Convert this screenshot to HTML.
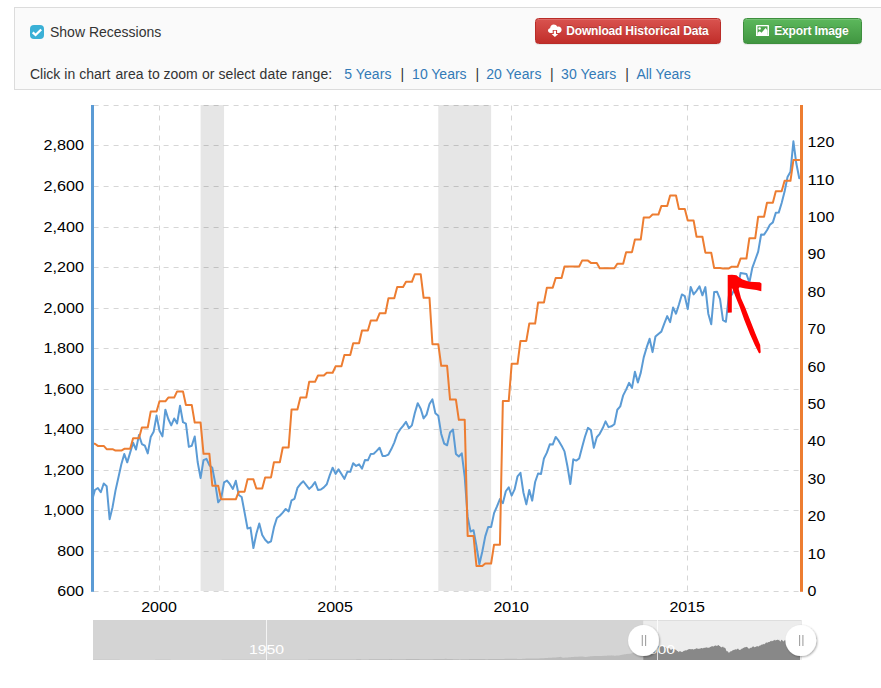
<!DOCTYPE html>
<html><head><meta charset="utf-8"><title>chart</title>
<style>
html,body{margin:0;padding:0;background:#fff;overflow:hidden;}
html{width:881px;height:688px;}
body{width:881px;height:688px;overflow:hidden;position:relative;font-family:"Liberation Sans",sans-serif;}
svg text{font-family:"Liberation Sans",sans-serif;}
.panel{position:absolute;left:14px;top:7px;width:866px;height:81px;background:#fafafa;border:1px solid #dcdcdc;border-right:none;}
.cb{position:absolute;left:30px;top:25px;width:14px;height:14px;border-radius:4px;background:#3ab0d6;}
.t{position:absolute;font-size:14px;line-height:16px;color:#333;white-space:nowrap;}
.lk{color:#337ab7;}
.rng{position:absolute;left:30px;top:66px;font-size:14px;line-height:16px;color:#333;white-space:nowrap;}
.rng a{color:#337ab7;text-decoration:none;}
.btn{box-shadow:inset 0 1px 0 rgba(255,255,255,.15),0 1px 1px rgba(0,0,0,.075);position:absolute;top:18px;height:24px;border-radius:3.5px;font-size:12px;font-weight:bold;color:#fff;line-height:24px;white-space:nowrap;text-shadow:0 -1px 0 rgba(0,0,0,.2);}
.red{left:535px;width:184px;background:linear-gradient(#d9534f,#c12e2a);border:1px solid #b92c28;}
.grn{left:743px;width:117px;background:linear-gradient(#5cb85c,#419641);border:1px solid #3e8f3e;}
</style></head><body>
<div class="panel"></div>
<div class="cb"><svg width="14" height="14" viewBox="0 0 14 14"><path d="M2.7 7.3 L5.6 10 L11.2 4.5" fill="none" stroke="#fff" stroke-width="2.3" stroke-linecap="butt" stroke-linejoin="miter"/></svg></div>
<div class="t" id="t0" style="left:50px;top:24px;">Show Recessions</div>
<div class="t" style="left:30.0px;top:66px;">Click</div>
<div class="t" style="left:64.3px;top:66px;">in</div>
<div class="t" style="left:79.3px;top:66px;">chart</div>
<div class="t" style="left:115.5px;top:66px;">area</div>
<div class="t" style="left:148.0px;top:66px;">to</div>
<div class="t" style="left:163.4px;top:66px;">zoom</div>
<div class="t" style="left:202.0px;top:66px;">or</div>
<div class="t" style="left:218.6px;top:66px;">select</div>
<div class="t" style="left:259.5px;top:66px; letter-spacing:0.20px;">date</div>
<div class="t" style="left:291.8px;top:66px; letter-spacing:0.15px;">range:</div>
<div class="t lk" id="t2" style="left:344.2px;top:66px;letter-spacing:0.08px">5 Years</div>
<div class="t" id="s1" style="left:400.4px;top:66px;">|</div>
<div class="t lk" id="t3" style="left:412.1px;top:66px;">10 Years</div>
<div class="t" id="s2" style="left:475.5px;top:66px;">|</div>
<div class="t lk" id="t4" style="left:486.2px;top:66px;letter-spacing:0.1px">20 Years</div>
<div class="t" id="s3" style="left:550.1px;top:66px;">|</div>
<div class="t lk" id="t5" style="left:561.1px;top:66px;letter-spacing:0.1px">30 Years</div>
<div class="t" id="s4" style="left:625.3px;top:66px;">|</div>
<div class="t lk" id="t6" style="left:636.4px;top:66px;">All Years</div>
<div class="btn red">
<svg style="position:absolute;left:11.5px;top:5px" width="15" height="14" viewBox="0 0 15 14"><path fill="#fff" d="M2.6,9 C1.2,9 0,7.9 0,6.6 C0,5.4 0.9,4.4 2.1,4.2 C2.2,2.2 3.8,0.6 5.8,0.6 C7.3,0.6 8.6,1.5 9.2,2.8 C9.6,2.6 10,2.5 10.5,2.5 C12.2,2.5 13.6,3.9 13.6,5.7 C13.6,7.5 12.2,9 10.5,9 Z"/><path d="M4.7,9.2 V6 H9.1 V9.2 Z" fill="#cd413d"/><path d="M5.8,6.8 H8 V9.9 H10.2 L6.9,13 L3.6,9.9 H5.8 Z" fill="#fff"/></svg>
<span style="position:absolute;left:30.3px;top:0;letter-spacing:-0.18px">Download</span><span style="position:absolute;left:89.3px;top:0">Historical</span><span style="position:absolute;left:147.2px;top:0;letter-spacing:-0.2px">Data</span></div>
<div class="btn grn">
<svg style="position:absolute;left:11.8px;top:5.8px" width="14" height="12" viewBox="0 0 14 12"><rect x="0" y="0" width="13" height="11.1" rx="0.6" fill="#fff"/><rect x="1.5" y="1.3" width="10" height="8.6" fill="#4fa64f"/><circle cx="3.6" cy="3.6" r="1.25" fill="#fff"/><path d="M1.5,10 V7.7 L3.7,6.3 L5.6,7.8 L9.6,2.9 L11.5,5.6 V10 Z" fill="#fff"/></svg>
<span style="position:absolute;left:30.2px;top:0;letter-spacing:-0.15px">Export</span><span style="position:absolute;left:70.4px;top:0;letter-spacing:-0.08px">Image</span></div>
<svg width="881" height="688" viewBox="0 0 881 688" style="position:absolute;left:0;top:0">
<defs><clipPath id="pc"><rect x="93" y="100" width="708" height="495"/></clipPath><filter id="sh" x="-30%" y="-30%" width="160%" height="160%"><feGaussianBlur in="SourceAlpha" stdDeviation="1.2"/><feOffset dx="0.5" dy="1"/><feComponentTransfer><feFuncA type="linear" slope="0.35"/></feComponentTransfer><feMerge><feMergeNode/><feMergeNode in="SourceGraphic"/></feMerge></filter></defs>
<rect x="200.59" y="105" width="23.48" height="486" fill="#e6e6e6"/>
<rect x="438.30" y="105" width="52.83" height="486" fill="#e6e6e6"/>
<line x1="93.6" x2="801" y1="105.5" y2="105.5" stroke="#000" stroke-opacity="0.16" stroke-width="1" stroke-dasharray="5,5" fill="none"/>
<line x1="93.6" x2="801" y1="145.5" y2="145.5" stroke="#000" stroke-opacity="0.16" stroke-width="1" stroke-dasharray="5,5" fill="none"/>
<line x1="93.6" x2="801" y1="186.5" y2="186.5" stroke="#000" stroke-opacity="0.16" stroke-width="1" stroke-dasharray="5,5" fill="none"/>
<line x1="93.6" x2="801" y1="227.5" y2="227.5" stroke="#000" stroke-opacity="0.16" stroke-width="1" stroke-dasharray="5,5" fill="none"/>
<line x1="93.6" x2="801" y1="267.5" y2="267.5" stroke="#000" stroke-opacity="0.16" stroke-width="1" stroke-dasharray="5,5" fill="none"/>
<line x1="93.6" x2="801" y1="308.5" y2="308.5" stroke="#000" stroke-opacity="0.16" stroke-width="1" stroke-dasharray="5,5" fill="none"/>
<line x1="93.6" x2="801" y1="348.5" y2="348.5" stroke="#000" stroke-opacity="0.16" stroke-width="1" stroke-dasharray="5,5" fill="none"/>
<line x1="93.6" x2="801" y1="389.5" y2="389.5" stroke="#000" stroke-opacity="0.16" stroke-width="1" stroke-dasharray="5,5" fill="none"/>
<line x1="93.6" x2="801" y1="429.5" y2="429.5" stroke="#000" stroke-opacity="0.16" stroke-width="1" stroke-dasharray="5,5" fill="none"/>
<line x1="93.6" x2="801" y1="470.5" y2="470.5" stroke="#000" stroke-opacity="0.16" stroke-width="1" stroke-dasharray="5,5" fill="none"/>
<line x1="93.6" x2="801" y1="510.5" y2="510.5" stroke="#000" stroke-opacity="0.16" stroke-width="1" stroke-dasharray="5,5" fill="none"/>
<line x1="93.6" x2="801" y1="551.5" y2="551.5" stroke="#000" stroke-opacity="0.16" stroke-width="1" stroke-dasharray="5,5" fill="none"/>
<line x1="93.6" x2="801" y1="591.5" y2="591.5" stroke="#000" stroke-opacity="0.16" stroke-width="1" stroke-dasharray="5,5" fill="none"/>
<line x1="159.5" x2="159.5" y1="105.5" y2="591.5" stroke="#000" stroke-opacity="0.16" stroke-width="1" stroke-dasharray="5,5" fill="none"/>
<line x1="335.5" x2="335.5" y1="105.5" y2="591.5" stroke="#000" stroke-opacity="0.16" stroke-width="1" stroke-dasharray="5,5" fill="none"/>
<line x1="511.5" x2="511.5" y1="105.5" y2="591.5" stroke="#000" stroke-opacity="0.16" stroke-width="1" stroke-dasharray="5,5" fill="none"/>
<line x1="687.5" x2="687.5" y1="105.5" y2="591.5" stroke="#000" stroke-opacity="0.16" stroke-width="1" stroke-dasharray="5,5" fill="none"/>
<g clip-path="url(#pc)"><g transform="translate(0,0.6)">
<path d="M89.07,513.99 L92.00,500.01 L94.94,489.40 L97.87,487.37 L100.81,491.61 L103.74,482.90 L106.67,485.56 L109.61,518.65 L112.54,506.56 L115.48,490.02 L118.41,476.86 L121.35,463.58 L124.28,453.37 L127.22,461.74 L130.15,452.01 L133.09,442.13 L136.02,448.88 L138.96,434.53 L141.89,443.43 L144.83,445.12 L147.76,452.75 L150.70,436.51 L153.63,431.25 L156.57,414.98 L159.50,430.12 L162.43,435.80 L165.37,409.04 L168.30,418.38 L171.24,424.83 L174.17,417.94 L177.11,422.76 L180.04,405.17 L182.98,421.61 L185.91,423.05 L188.85,446.22 L191.78,445.14 L194.72,435.88 L197.65,461.41 L200.59,477.53 L203.52,459.48 L206.46,458.20 L209.39,464.56 L212.32,467.23 L215.26,482.95 L218.19,501.71 L221.13,497.89 L224.06,481.76 L227.00,480.01 L229.93,483.63 L232.87,488.39 L235.80,480.15 L238.74,494.42 L241.67,496.40 L244.61,512.06 L247.54,527.90 L250.48,527.00 L253.41,547.41 L256.35,533.13 L259.28,522.90 L262.22,534.34 L265.15,539.22 L268.08,542.17 L271.02,540.74 L273.95,526.82 L276.89,517.37 L279.82,515.16 L282.76,511.96 L285.69,508.38 L288.63,510.82 L291.56,499.73 L294.50,498.21 L297.43,487.34 L300.37,483.45 L303.30,480.65 L306.24,484.44 L309.17,488.27 L312.11,485.56 L315.04,481.48 L317.98,489.40 L320.91,488.89 L323.84,486.80 L326.78,483.63 L329.71,474.80 L332.65,467.09 L335.58,473.29 L338.52,468.77 L341.45,473.43 L344.39,478.24 L347.32,471.22 L350.26,471.26 L353.19,462.58 L356.13,465.38 L359.06,463.67 L362.00,468.08 L364.93,459.48 L367.87,459.72 L370.80,453.28 L373.73,453.17 L376.67,450.30 L379.60,447.10 L382.54,455.31 L385.47,455.28 L388.41,453.98 L391.34,448.48 L394.28,441.99 L397.21,433.47 L400.15,428.87 L403.08,425.29 L406.02,421.26 L408.95,427.62 L411.89,424.78 L414.82,412.32 L417.76,402.55 L420.69,408.07 L423.62,417.81 L426.56,414.02 L429.49,403.33 L432.43,398.75 L435.36,412.57 L438.30,415.16 L441.23,433.34 L444.17,443.05 L447.10,444.65 L450.04,431.92 L452.97,428.92 L455.91,453.30 L458.84,455.86 L461.78,452.73 L464.71,476.31 L467.65,516.33 L470.58,531.01 L473.52,529.59 L476.45,545.26 L479.38,563.64 L482.32,550.93 L485.25,535.76 L488.19,526.37 L491.12,526.34 L494.06,512.54 L496.99,505.82 L499.93,498.44 L502.86,502.67 L505.80,490.63 L508.73,486.69 L511.67,495.04 L514.60,488.84 L517.54,475.69 L520.47,472.20 L523.41,491.89 L526.34,503.78 L529.27,489.43 L532.21,500.01 L535.14,481.41 L538.08,472.89 L541.01,473.44 L543.95,457.83 L546.88,452.06 L549.82,443.74 L552.75,444.02 L555.69,436.37 L558.62,440.10 L561.56,445.07 L564.49,450.81 L567.43,465.67 L570.36,483.39 L573.30,458.71 L576.23,459.99 L579.17,457.84 L582.10,446.74 L585.03,435.95 L587.97,427.28 L590.90,429.42 L593.84,447.16 L596.77,436.66 L599.71,433.19 L602.64,427.67 L605.58,420.76 L608.51,426.54 L611.45,425.72 L614.38,423.70 L617.32,409.13 L620.25,405.78 L623.19,394.74 L626.12,388.99 L629.06,382.28 L631.99,387.23 L634.92,371.14 L637.86,381.82 L640.79,371.99 L643.73,356.80 L646.66,346.82 L649.60,338.21 L652.53,351.53 L655.47,335.96 L658.40,333.35 L661.34,331.00 L664.27,322.98 L667.21,315.55 L670.14,321.54 L673.08,306.82 L676.01,313.11 L678.95,303.84 L681.88,293.82 L684.82,295.57 L687.75,308.51 L690.68,286.34 L693.62,293.75 L696.55,290.18 L699.49,285.75 L702.42,294.72 L705.36,286.47 L708.29,313.13 L711.23,323.69 L714.16,291.43 L717.10,291.22 L720.03,298.60 L722.97,319.60 L725.90,321.22 L728.84,295.40 L731.77,294.28 L734.71,287.87 L737.64,287.48 L740.58,272.35 L743.51,272.88 L746.44,273.43 L749.38,281.95 L752.31,267.24 L755.25,259.14 L758.18,251.03 L761.12,233.86 L764.05,234.05 L766.99,229.70 L769.92,224.11 L772.86,221.76 L775.79,212.26 L778.73,211.99 L781.66,202.33 L784.60,191.01 L787.53,176.37 L790.47,171.09 L793.40,140.68 L796.33,162.95 L799.27,177.72" fill="none" stroke="#5b9bd5" stroke-width="2" stroke-linejoin="round" stroke-linecap="round"/>
<path d="M89.07,443.18 L92.00,443.18 L94.94,443.18 L97.87,445.31 L100.81,445.31 L103.74,445.31 L106.67,448.60 L109.61,448.60 L112.54,448.60 L115.48,450.02 L118.41,450.02 L121.35,450.02 L124.28,448.19 L127.22,448.19 L130.15,448.19 L133.09,437.72 L136.02,437.72 L138.96,437.72 L141.89,426.88 L144.83,426.88 L147.76,426.88 L150.70,410.99 L153.63,410.99 L156.57,410.99 L159.50,400.71 L162.43,400.71 L165.37,400.71 L168.30,396.97 L171.24,396.97 L174.17,396.97 L177.11,390.81 L180.04,390.81 L182.98,390.81 L185.91,404.45 L188.85,404.45 L191.78,404.45 L194.72,421.98 L197.65,421.98 L200.59,421.98 L203.52,453.24 L206.46,453.24 L209.39,453.24 L212.32,485.16 L215.26,485.16 L218.19,485.16 L221.13,498.70 L224.06,498.70 L227.00,498.70 L229.93,498.77 L232.87,498.77 L235.80,498.77 L238.74,491.03 L241.67,491.03 L244.61,491.03 L247.54,478.77 L250.48,478.77 L253.41,478.77 L256.35,487.86 L259.28,487.86 L262.22,487.86 L265.15,476.83 L268.08,476.83 L271.02,476.83 L273.95,461.65 L276.89,461.65 L279.82,461.65 L282.76,446.88 L285.69,446.88 L288.63,446.88 L291.56,408.79 L294.50,408.79 L297.43,408.79 L300.37,396.97 L303.30,396.97 L306.24,396.97 L309.17,381.27 L312.11,381.27 L315.04,381.27 L317.98,374.92 L320.91,374.92 L323.84,374.92 L326.78,372.11 L329.71,372.11 L332.65,372.11 L335.58,365.76 L338.52,365.76 L341.45,365.76 L344.39,354.50 L347.32,354.50 L350.26,354.50 L353.19,342.58 L356.13,342.58 L359.06,342.58 L362.00,329.87 L364.93,329.87 L367.87,329.87 L370.80,319.96 L373.73,319.96 L376.67,319.96 L379.60,312.67 L382.54,312.67 L385.47,312.67 L388.41,297.72 L391.34,297.72 L394.28,297.72 L397.21,286.50 L400.15,286.50 L403.08,286.50 L406.02,281.23 L408.95,281.23 L411.89,281.23 L414.82,273.53 L417.76,273.53 L420.69,273.53 L423.62,297.16 L426.56,297.16 L429.49,297.16 L432.43,343.59 L435.36,343.59 L438.30,343.59 L441.23,365.23 L444.17,365.23 L447.10,365.23 L450.04,398.96 L452.97,398.96 L455.91,398.96 L458.84,419.22 L461.78,419.22 L464.71,419.22 L467.65,535.37 L470.58,535.37 L473.52,535.37 L476.45,565.35 L479.38,565.35 L482.32,565.35 L485.25,562.92 L488.19,562.92 L491.12,562.92 L494.06,544.12 L496.99,544.12 L499.93,544.12 L502.86,400.45 L505.80,400.45 L508.73,400.45 L511.67,363.22 L514.60,363.22 L517.54,363.22 L520.47,340.34 L523.41,340.34 L526.34,340.34 L529.27,322.95 L532.21,322.95 L535.14,322.95 L538.08,302.02 L541.01,302.02 L543.95,302.02 L546.88,287.03 L549.82,287.03 L552.75,287.03 L555.69,277.46 L558.62,277.46 L561.56,277.46 L564.49,265.83 L567.43,265.83 L570.36,265.83 L573.30,265.94 L576.23,265.94 L579.17,265.94 L582.10,260.00 L585.03,260.00 L587.97,260.00 L590.90,262.31 L593.84,262.31 L596.77,262.31 L599.71,267.62 L602.64,267.62 L605.58,267.62 L608.51,267.59 L611.45,267.59 L614.38,267.59 L617.32,263.14 L620.25,263.14 L623.19,263.14 L626.12,251.55 L629.06,251.55 L631.99,251.55 L634.92,238.84 L637.86,238.84 L640.79,238.84 L643.73,216.78 L646.66,216.78 L649.60,216.78 L652.53,213.98 L655.47,213.98 L658.40,213.98 L661.34,205.49 L664.27,205.49 L667.21,205.49 L670.14,194.87 L673.08,194.87 L676.01,194.87 L678.95,208.52 L681.88,208.52 L684.82,208.52 L687.75,219.96 L690.68,219.96 L693.62,219.96 L696.55,236.18 L699.49,236.18 L702.42,236.18 L705.36,252.07 L708.29,252.07 L711.23,252.07 L714.16,267.51 L717.10,267.51 L720.03,267.51 L722.97,267.85 L725.90,267.85 L728.84,267.85 L731.77,266.05 L734.71,266.05 L737.64,266.05 L740.58,257.94 L743.51,257.94 L746.44,257.94 L749.38,237.53 L752.31,237.53 L755.25,237.53 L758.18,216.07 L761.12,216.07 L764.05,216.07 L766.99,202.13 L769.92,202.13 L772.86,202.13 L775.79,190.69 L778.73,190.69 L781.66,190.69 L784.60,180.22 L787.53,180.22 L790.47,180.22 L793.40,159.43 L796.33,159.43 L799.27,159.43" fill="none" stroke="#ed7d31" stroke-width="2" stroke-linejoin="round" stroke-linecap="round"/>
</g></g>
<rect x="91" y="105" width="3" height="486.8" fill="#5b9bd5"/>
<rect x="800" y="105" width="3" height="486.8" fill="#ed7d31"/>
<text x="84.0" y="595.9" text-anchor="end" textLength="26.7" lengthAdjust="spacingAndGlyphs" font-size="14" fill="#000">600</text>
<text x="84.0" y="555.9" text-anchor="end" textLength="26.7" lengthAdjust="spacingAndGlyphs" font-size="14" fill="#000">800</text>
<text x="84.0" y="514.9" text-anchor="end" textLength="40.6" lengthAdjust="spacingAndGlyphs" font-size="14" fill="#000">1,000</text>
<text x="84.0" y="474.9" text-anchor="end" textLength="40.6" lengthAdjust="spacingAndGlyphs" font-size="14" fill="#000">1,200</text>
<text x="84.0" y="433.9" text-anchor="end" textLength="40.6" lengthAdjust="spacingAndGlyphs" font-size="14" fill="#000">1,400</text>
<text x="84.0" y="393.9" text-anchor="end" textLength="40.6" lengthAdjust="spacingAndGlyphs" font-size="14" fill="#000">1,600</text>
<text x="84.0" y="352.9" text-anchor="end" textLength="40.6" lengthAdjust="spacingAndGlyphs" font-size="14" fill="#000">1,800</text>
<text x="84.0" y="312.9" text-anchor="end" textLength="40.6" lengthAdjust="spacingAndGlyphs" font-size="14" fill="#000">2,000</text>
<text x="84.0" y="271.9" text-anchor="end" textLength="40.6" lengthAdjust="spacingAndGlyphs" font-size="14" fill="#000">2,200</text>
<text x="84.0" y="231.9" text-anchor="end" textLength="40.6" lengthAdjust="spacingAndGlyphs" font-size="14" fill="#000">2,400</text>
<text x="84.0" y="190.9" text-anchor="end" textLength="40.6" lengthAdjust="spacingAndGlyphs" font-size="14" fill="#000">2,600</text>
<text x="84.0" y="149.9" text-anchor="end" textLength="40.6" lengthAdjust="spacingAndGlyphs" font-size="14" fill="#000">2,800</text>
<text x="807.6" y="595.9" text-anchor="start" textLength="8.9" lengthAdjust="spacingAndGlyphs" font-size="14" fill="#000">0</text>
<text x="807.6" y="558.5" text-anchor="start" textLength="17.8" lengthAdjust="spacingAndGlyphs" font-size="14" fill="#000">10</text>
<text x="807.6" y="521.1" text-anchor="start" textLength="17.8" lengthAdjust="spacingAndGlyphs" font-size="14" fill="#000">20</text>
<text x="807.6" y="483.7" text-anchor="start" textLength="17.8" lengthAdjust="spacingAndGlyphs" font-size="14" fill="#000">30</text>
<text x="807.6" y="446.4" text-anchor="start" textLength="17.8" lengthAdjust="spacingAndGlyphs" font-size="14" fill="#000">40</text>
<text x="807.6" y="409.0" text-anchor="start" textLength="17.8" lengthAdjust="spacingAndGlyphs" font-size="14" fill="#000">50</text>
<text x="807.6" y="371.6" text-anchor="start" textLength="17.8" lengthAdjust="spacingAndGlyphs" font-size="14" fill="#000">60</text>
<text x="807.6" y="334.2" text-anchor="start" textLength="17.8" lengthAdjust="spacingAndGlyphs" font-size="14" fill="#000">70</text>
<text x="807.6" y="296.8" text-anchor="start" textLength="17.8" lengthAdjust="spacingAndGlyphs" font-size="14" fill="#000">80</text>
<text x="807.6" y="259.4" text-anchor="start" textLength="17.8" lengthAdjust="spacingAndGlyphs" font-size="14" fill="#000">90</text>
<text x="807.6" y="222.1" text-anchor="start" textLength="26.7" lengthAdjust="spacingAndGlyphs" font-size="14" fill="#000">100</text>
<text x="807.6" y="184.7" text-anchor="start" textLength="26.7" lengthAdjust="spacingAndGlyphs" font-size="14" fill="#000">110</text>
<text x="807.6" y="147.3" text-anchor="start" textLength="26.7" lengthAdjust="spacingAndGlyphs" font-size="14" fill="#000">120</text>
<text x="159.0" y="612.0" text-anchor="middle" textLength="35.6" lengthAdjust="spacingAndGlyphs" font-size="14" fill="#000">2000</text>
<text x="335.1" y="612.0" text-anchor="middle" textLength="35.6" lengthAdjust="spacingAndGlyphs" font-size="14" fill="#000">2005</text>
<text x="511.2" y="612.0" text-anchor="middle" textLength="35.6" lengthAdjust="spacingAndGlyphs" font-size="14" fill="#000">2010</text>
<text x="687.2" y="612.0" text-anchor="middle" textLength="35.6" lengthAdjust="spacingAndGlyphs" font-size="14" fill="#000">2015</text>
<clipPath id="c1"><rect x="93" y="620" width="550.20" height="40"/></clipPath>
<clipPath id="c2"><rect x="643.20" y="620" width="157.00" height="40"/></clipPath>
<rect x="93" y="620" width="708.5" height="40" fill="#d4d4d4"/>
<rect x="643.20" y="620.6" width="158.00" height="39.4" fill="#ededed"/>
<path d="M92.96,660 L92.96,659.83 L93.29,659.83 L93.63,659.83 L93.96,659.83 L94.30,659.83 L94.63,659.82 L94.97,659.82 L95.31,659.82 L95.64,659.82 L95.98,659.82 L96.31,659.82 L96.65,659.82 L96.98,659.82 L97.32,659.81 L97.65,659.81 L97.98,659.81 L98.31,659.81 L98.63,659.80 L98.96,659.80 L99.29,659.79 L99.61,659.79 L99.94,659.79 L100.26,659.78 L100.59,659.78 L100.92,659.77 L101.24,659.77 L101.57,659.76 L101.89,659.76 L102.21,659.76 L102.54,659.75 L102.86,659.75 L103.18,659.75 L103.50,659.74 L103.83,659.74 L104.15,659.73 L104.47,659.73 L104.79,659.73 L105.12,659.73 L105.44,659.72 L105.76,659.71 L106.08,659.71 L106.41,659.71 L106.73,659.70 L107.05,659.70 L107.36,659.72 L107.68,659.74 L107.99,659.76 L108.30,659.78 L108.62,659.80 L108.93,659.80 L109.24,659.79 L109.56,659.79 L109.87,659.78 L110.18,659.78 L110.50,659.78 L110.81,659.77 L111.12,659.77 L111.44,659.76 L111.75,659.76 L112.07,659.76 L112.39,659.77 L112.72,659.78 L113.04,659.78 L113.36,659.79 L113.68,659.79 L114.01,659.80 L114.33,659.80 L114.65,659.81 L114.97,659.81 L115.30,659.82 L115.62,659.82 L115.94,659.83 L116.26,659.83 L116.59,659.84 L116.91,659.85 L117.23,659.85 L117.56,659.85 L117.88,659.86 L118.21,659.86 L118.54,659.86 L118.86,659.86 L119.19,659.87 L119.51,659.87 L119.84,659.88 L120.17,659.88 L120.49,659.88 L120.82,659.88 L121.14,659.89 L121.47,659.89 L121.80,659.89 L122.12,659.90 L122.45,659.90 L122.78,659.90 L123.10,659.91 L123.43,659.91 L123.75,659.91 L124.08,659.91 L124.41,659.92 L124.73,659.92 L125.06,659.92 L125.39,659.92 L125.71,659.93 L126.04,659.93 L126.37,659.93 L126.69,659.94 L127.02,659.94 L127.34,659.94 L127.67,659.95 L128.00,659.95 L128.32,659.95 L128.65,659.95 L128.98,659.96 L129.30,659.95 L129.63,659.95 L129.95,659.95 L130.28,659.95 L130.61,659.94 L130.93,659.94 L131.26,659.94 L131.58,659.93 L131.91,659.93 L132.24,659.93 L132.56,659.93 L132.89,659.92 L133.22,659.92 L133.54,659.92 L133.87,659.92 L134.20,659.91 L134.52,659.91 L134.85,659.91 L135.17,659.91 L135.50,659.91 L135.83,659.90 L136.15,659.90 L136.48,659.90 L136.80,659.89 L137.13,659.90 L137.46,659.90 L137.78,659.90 L138.11,659.90 L138.44,659.90 L138.76,659.90 L139.09,659.90 L139.41,659.90 L139.74,659.90 L140.07,659.90 L140.39,659.90 L140.72,659.90 L141.05,659.90 L141.37,659.90 L141.70,659.90 L142.03,659.91 L142.35,659.90 L142.68,659.90 L143.00,659.91 L143.33,659.91 L143.66,659.91 L143.98,659.91 L144.31,659.91 L144.63,659.91 L144.96,659.91 L145.29,659.91 L145.61,659.91 L145.94,659.91 L146.27,659.90 L146.59,659.90 L146.92,659.90 L147.24,659.90 L147.57,659.90 L147.90,659.90 L148.22,659.90 L148.55,659.89 L148.88,659.89 L149.20,659.89 L149.53,659.89 L149.86,659.89 L150.18,659.89 L150.51,659.89 L150.83,659.89 L151.16,659.89 L151.49,659.89 L151.81,659.88 L152.14,659.88 L152.46,659.88 L152.79,659.88 L153.12,659.88 L153.44,659.88 L153.77,659.88 L154.10,659.88 L154.42,659.88 L154.75,659.88 L155.07,659.88 L155.40,659.87 L155.73,659.87 L156.05,659.87 L156.38,659.87 L156.70,659.87 L157.03,659.87 L157.35,659.86 L157.68,659.86 L158.00,659.86 L158.32,659.86 L158.65,659.86 L158.97,659.86 L159.30,659.86 L159.62,659.86 L159.94,659.85 L160.27,659.85 L160.59,659.85 L160.92,659.85 L161.24,659.84 L161.56,659.84 L161.89,659.84 L162.21,659.84 L162.54,659.84 L162.86,659.84 L163.18,659.83 L163.51,659.83 L163.83,659.83 L164.16,659.83 L164.48,659.83 L164.80,659.83 L165.13,659.82 L165.45,659.82 L165.78,659.82 L166.11,659.83 L166.44,659.83 L166.77,659.83 L167.10,659.84 L167.43,659.84 L167.76,659.85 L168.09,659.84 L168.43,659.85 L168.76,659.86 L169.09,659.86 L169.42,659.86 L169.75,659.86 L170.08,659.87 L170.41,659.87 L170.75,659.88 L171.08,659.88 L171.41,659.88 L171.74,659.88 L172.07,659.89 L172.40,659.89 L172.73,659.90 L173.06,659.90 L173.40,659.90 L173.73,659.91 L174.06,659.91 L174.39,659.91 L174.71,659.91 L175.03,659.91 L175.36,659.91 L175.68,659.91 L176.00,659.90 L176.32,659.90 L176.65,659.90 L176.97,659.90 L177.29,659.89 L177.61,659.89 L177.94,659.89 L178.26,659.89 L178.58,659.88 L178.90,659.88 L179.23,659.88 L179.55,659.88 L179.87,659.88 L180.20,659.88 L180.52,659.88 L180.85,659.88 L181.18,659.88 L181.50,659.88 L181.83,659.88 L182.15,659.88 L182.48,659.88 L182.81,659.88 L183.13,659.88 L183.46,659.88 L183.78,659.88 L184.11,659.88 L184.44,659.89 L184.76,659.89 L185.09,659.89 L185.42,659.89 L185.74,659.89 L186.07,659.89 L186.39,659.89 L186.72,659.89 L187.05,659.89 L187.37,659.89 L187.70,659.89 L188.03,659.90 L188.35,659.90 L188.68,659.90 L189.01,659.90 L189.33,659.90 L189.66,659.90 L189.98,659.90 L190.31,659.90 L190.64,659.90 L190.96,659.90 L191.29,659.90 L191.62,659.90 L191.94,659.90 L192.27,659.90 L192.60,659.90 L192.93,659.91 L193.25,659.91 L193.58,659.91 L193.91,659.91 L194.24,659.91 L194.56,659.91 L194.89,659.91 L195.22,659.91 L195.55,659.91 L195.88,659.91 L196.20,659.91 L196.53,659.91 L196.86,659.91 L197.19,659.91 L197.51,659.91 L197.84,659.91 L198.17,659.91 L198.50,659.91 L198.83,659.92 L199.15,659.91 L199.48,659.92 L199.81,659.92 L200.14,659.92 L200.46,659.92 L200.79,659.92 L201.12,659.92 L201.45,659.92 L201.78,659.92 L202.10,659.92 L202.43,659.92 L202.76,659.92 L203.09,659.92 L203.41,659.92 L203.74,659.92 L204.07,659.92 L204.40,659.93 L204.73,659.92 L205.05,659.92 L205.38,659.92 L205.71,659.93 L206.03,659.93 L206.36,659.92 L206.68,659.92 L207.01,659.92 L207.33,659.92 L207.66,659.92 L207.98,659.92 L208.31,659.92 L208.63,659.92 L208.96,659.92 L209.28,659.92 L209.60,659.91 L209.93,659.91 L210.25,659.91 L210.58,659.91 L210.90,659.91 L211.23,659.91 L211.55,659.91 L211.88,659.91 L212.20,659.90 L212.53,659.90 L212.85,659.90 L213.18,659.90 L213.50,659.90 L213.83,659.90 L214.15,659.90 L214.47,659.90 L214.80,659.90 L215.12,659.90 L215.45,659.89 L215.77,659.90 L216.10,659.90 L216.42,659.89 L216.75,659.89 L217.07,659.89 L217.40,659.89 L217.72,659.89 L218.05,659.89 L218.37,659.89 L218.70,659.89 L219.02,659.88 L219.34,659.88 L219.67,659.88 L219.99,659.88 L220.32,659.88 L220.64,659.88 L220.96,659.88 L221.29,659.88 L221.61,659.88 L221.94,659.87 L222.26,659.87 L222.58,659.87 L222.91,659.87 L223.23,659.87 L223.56,659.87 L223.88,659.87 L224.20,659.87 L224.53,659.86 L224.85,659.86 L225.18,659.86 L225.50,659.86 L225.82,659.86 L226.15,659.86 L226.47,659.86 L226.80,659.86 L227.12,659.85 L227.44,659.85 L227.77,659.85 L228.09,659.85 L228.42,659.85 L228.74,659.85 L229.06,659.85 L229.39,659.85 L229.71,659.85 L230.04,659.85 L230.36,659.85 L230.68,659.84 L231.01,659.84 L231.33,659.84 L231.66,659.84 L231.98,659.84 L232.30,659.84 L232.63,659.84 L232.95,659.84 L233.28,659.83 L233.60,659.83 L233.92,659.83 L234.25,659.83 L234.57,659.83 L234.90,659.83 L235.22,659.82 L235.54,659.83 L235.87,659.83 L236.19,659.83 L236.52,659.82 L236.84,659.82 L237.16,659.82 L237.49,659.82 L237.81,659.82 L238.14,659.82 L238.47,659.82 L238.81,659.82 L239.14,659.83 L239.47,659.83 L239.80,659.83 L240.13,659.83 L240.46,659.83 L240.79,659.83 L241.12,659.83 L241.46,659.83 L241.79,659.83 L242.12,659.84 L242.45,659.84 L242.78,659.84 L243.11,659.84 L243.44,659.84 L243.77,659.84 L244.11,659.85 L244.44,659.85 L244.77,659.85 L245.10,659.85 L245.43,659.85 L245.76,659.85 L246.09,659.85 L246.43,659.86 L246.75,659.85 L247.08,659.85 L247.40,659.86 L247.73,659.86 L248.06,659.86 L248.38,659.85 L248.71,659.85 L249.03,659.85 L249.36,659.86 L249.69,659.85 L250.01,659.86 L250.34,659.86 L250.67,659.86 L250.99,659.86 L251.32,659.86 L251.65,659.86 L251.97,659.86 L252.30,659.86 L252.62,659.86 L252.95,659.86 L253.28,659.86 L253.60,659.86 L253.93,659.86 L254.25,659.86 L254.58,659.86 L254.91,659.86 L255.23,659.86 L255.56,659.86 L255.89,659.86 L256.21,659.86 L256.54,659.86 L256.86,659.86 L257.19,659.86 L257.52,659.86 L257.84,659.86 L258.17,659.86 L258.50,659.86 L258.82,659.86 L259.15,659.86 L259.48,659.86 L259.80,659.86 L260.13,659.86 L260.45,659.86 L260.78,659.86 L261.11,659.86 L261.43,659.86 L261.76,659.86 L262.08,659.86 L262.41,659.86 L262.74,659.86 L263.06,659.86 L263.39,659.85 L263.72,659.86 L264.04,659.85 L264.37,659.85 L264.69,659.85 L265.02,659.85 L265.35,659.85 L265.67,659.85 L266.00,659.84 L266.33,659.84 L266.65,659.84 L266.98,659.84 L267.31,659.84 L267.63,659.84 L267.96,659.83 L268.28,659.83 L268.61,659.84 L268.94,659.83 L269.26,659.83 L269.59,659.83 L269.92,659.83 L270.24,659.83 L270.57,659.83 L270.89,659.82 L271.22,659.82 L271.55,659.82 L271.87,659.82 L272.20,659.82 L272.52,659.81 L272.85,659.81 L273.18,659.81 L273.50,659.81 L273.83,659.81 L274.16,659.80 L274.48,659.80 L274.81,659.80 L275.14,659.80 L275.46,659.80 L275.79,659.80 L276.11,659.80 L276.44,659.79 L276.77,659.79 L277.09,659.79 L277.42,659.79 L277.75,659.79 L278.07,659.79 L278.40,659.78 L278.72,659.79 L279.05,659.78 L279.38,659.78 L279.70,659.78 L280.03,659.77 L280.35,659.77 L280.68,659.77 L281.01,659.77 L281.33,659.77 L281.66,659.77 L281.98,659.77 L282.31,659.77 L282.63,659.77 L282.96,659.77 L283.28,659.77 L283.61,659.77 L283.93,659.77 L284.26,659.77 L284.58,659.77 L284.91,659.77 L285.23,659.77 L285.56,659.77 L285.88,659.77 L286.21,659.77 L286.53,659.78 L286.85,659.77 L287.18,659.77 L287.50,659.77 L287.83,659.77 L288.15,659.77 L288.48,659.77 L288.80,659.77 L289.13,659.77 L289.45,659.77 L289.78,659.78 L290.10,659.77 L290.43,659.78 L290.75,659.77 L291.08,659.77 L291.40,659.78 L291.72,659.78 L292.05,659.77 L292.37,659.78 L292.70,659.78 L293.02,659.78 L293.35,659.78 L293.67,659.78 L294.00,659.77 L294.32,659.78 L294.65,659.78 L294.97,659.78 L295.30,659.78 L295.63,659.77 L295.96,659.77 L296.28,659.77 L296.61,659.76 L296.94,659.76 L297.27,659.75 L297.60,659.75 L297.93,659.75 L298.25,659.73 L298.58,659.73 L298.91,659.73 L299.24,659.73 L299.57,659.73 L299.90,659.72 L300.22,659.72 L300.55,659.71 L300.88,659.71 L301.21,659.70 L301.54,659.70 L301.87,659.69 L302.19,659.69 L302.52,659.69 L302.85,659.68 L303.18,659.68 L303.51,659.68 L303.84,659.67 L304.16,659.67 L304.49,659.66 L304.82,659.65 L305.15,659.65 L305.48,659.66 L305.80,659.65 L306.13,659.64 L306.46,659.64 L306.78,659.64 L307.11,659.64 L307.43,659.63 L307.76,659.63 L308.09,659.63 L308.41,659.62 L308.74,659.61 L309.06,659.61 L309.39,659.62 L309.72,659.62 L310.04,659.60 L310.37,659.60 L310.70,659.60 L311.02,659.59 L311.35,659.60 L311.67,659.59 L312.00,659.58 L312.33,659.58 L312.65,659.57 L312.98,659.57 L313.31,659.58 L313.63,659.58 L313.96,659.57 L314.29,659.56 L314.61,659.56 L314.94,659.55 L315.26,659.55 L315.59,659.55 L315.92,659.54 L316.24,659.55 L316.57,659.54 L316.89,659.54 L317.22,659.55 L317.55,659.54 L317.88,659.55 L318.21,659.54 L318.54,659.55 L318.87,659.56 L319.19,659.56 L319.52,659.56 L319.85,659.56 L320.18,659.56 L320.51,659.57 L320.84,659.57 L321.16,659.57 L321.49,659.57 L321.82,659.58 L322.15,659.58 L322.48,659.58 L322.81,659.59 L323.13,659.59 L323.46,659.59 L323.79,659.58 L324.12,659.59 L324.45,659.59 L324.78,659.60 L325.10,659.60 L325.43,659.61 L325.76,659.60 L326.09,659.61 L326.42,659.61 L326.75,659.62 L327.07,659.62 L327.40,659.61 L327.72,659.60 L328.05,659.60 L328.37,659.60 L328.70,659.59 L329.02,659.58 L329.35,659.59 L329.67,659.59 L330.00,659.58 L330.32,659.57 L330.65,659.56 L330.97,659.57 L331.29,659.55 L331.62,659.55 L331.94,659.55 L332.27,659.55 L332.59,659.53 L332.92,659.54 L333.24,659.53 L333.57,659.53 L333.89,659.53 L334.22,659.51 L334.54,659.52 L334.87,659.50 L335.19,659.50 L335.52,659.51 L335.84,659.50 L336.16,659.49 L336.49,659.48 L336.81,659.47 L337.14,659.48 L337.46,659.47 L337.79,659.47 L338.11,659.45 L338.44,659.47 L338.76,659.46 L339.09,659.46 L339.41,659.45 L339.74,659.43 L340.06,659.43 L340.38,659.43 L340.71,659.43 L341.04,659.43 L341.37,659.43 L341.70,659.44 L342.03,659.45 L342.36,659.43 L342.68,659.44 L343.01,659.45 L343.34,659.44 L343.67,659.45 L344.00,659.45 L344.33,659.45 L344.65,659.46 L344.98,659.46 L345.31,659.46 L345.64,659.46 L345.97,659.45 L346.30,659.47 L346.62,659.45 L346.95,659.47 L347.28,659.47 L347.61,659.46 L347.94,659.46 L348.27,659.47 L348.59,659.48 L348.92,659.47 L349.25,659.48 L349.58,659.47 L349.91,659.48 L350.24,659.48 L350.56,659.48 L350.90,659.47 L351.23,659.48 L351.56,659.46 L351.89,659.45 L352.22,659.44 L352.55,659.45 L352.88,659.45 L353.21,659.44 L353.55,659.42 L353.88,659.42 L354.21,659.41 L354.54,659.40 L354.87,659.40 L355.20,659.40 L355.53,659.38 L355.86,659.38 L356.20,659.38 L356.53,659.36 L356.86,659.37 L357.19,659.36 L357.52,659.36 L357.85,659.34 L358.18,659.33 L358.51,659.33 L358.85,659.31 L359.18,659.32 L359.51,659.34 L359.85,659.35 L360.18,659.35 L360.52,659.35 L360.85,659.36 L361.19,659.39 L361.53,659.40 L361.86,659.41 L362.20,659.42 L362.53,659.42 L362.87,659.44 L363.20,659.44 L363.54,659.46 L363.88,659.47 L364.20,659.46 L364.53,659.45 L364.85,659.45 L365.18,659.45 L365.51,659.45 L365.83,659.44 L366.16,659.43 L366.48,659.43 L366.81,659.43 L367.14,659.41 L367.46,659.41 L367.79,659.41 L368.12,659.41 L368.44,659.39 L368.77,659.39 L369.10,659.37 L369.42,659.37 L369.75,659.36 L370.07,659.37 L370.40,659.37 L370.73,659.36 L371.05,659.35 L371.38,659.34 L371.70,659.34 L372.03,659.34 L372.36,659.33 L372.68,659.32 L373.01,659.31 L373.34,659.30 L373.66,659.29 L373.99,659.29 L374.31,659.30 L374.64,659.28 L374.97,659.29 L375.29,659.27 L375.62,659.27 L375.95,659.27 L376.27,659.26 L376.60,659.27 L376.93,659.26 L377.25,659.26 L377.58,659.26 L377.90,659.23 L378.23,659.24 L378.56,659.24 L378.88,659.24 L379.21,659.22 L379.54,659.23 L379.86,659.23 L380.19,659.21 L380.51,659.21 L380.84,659.20 L381.17,659.22 L381.49,659.21 L381.82,659.20 L382.14,659.19 L382.47,659.19 L382.80,659.21 L383.12,659.20 L383.45,659.20 L383.78,659.19 L384.10,659.17 L384.43,659.17 L384.76,659.16 L385.08,659.17 L385.41,659.16 L385.73,659.17 L386.06,659.17 L386.39,659.15 L386.71,659.14 L387.04,659.16 L387.37,659.14 L387.69,659.14 L388.02,659.15 L388.34,659.14 L388.67,659.14 L389.00,659.14 L389.32,659.13 L389.65,659.12 L389.97,659.11 L390.30,659.13 L390.63,659.13 L390.95,659.11 L391.28,659.11 L391.61,659.11 L391.94,659.13 L392.27,659.14 L392.60,659.15 L392.93,659.14 L393.26,659.16 L393.59,659.18 L393.92,659.19 L394.25,659.19 L394.58,659.20 L394.91,659.20 L395.24,659.23 L395.57,659.23 L395.90,659.23 L396.23,659.24 L396.55,659.26 L396.88,659.27 L397.21,659.26 L397.54,659.28 L397.87,659.28 L398.20,659.26 L398.53,659.26 L398.86,659.26 L399.19,659.24 L399.52,659.23 L399.85,659.24 L400.17,659.24 L400.50,659.22 L400.83,659.23 L401.16,659.23 L401.49,659.19 L401.82,659.20 L402.15,659.18 L402.48,659.19 L402.81,659.17 L403.13,659.18 L403.46,659.18 L403.79,659.18 L404.12,659.15 L404.45,659.15 L404.78,659.13 L405.11,659.15 L405.44,659.13 L405.77,659.13 L406.09,659.12 L406.42,659.12 L406.75,659.11 L407.08,659.10 L407.41,659.08 L407.74,659.10 L408.07,659.08 L408.40,659.07 L408.73,659.05 L409.05,659.07 L409.38,659.07 L409.71,659.04 L410.04,659.03 L410.37,659.04 L410.70,659.05 L411.03,659.01 L411.36,659.02 L411.68,659.00 L412.01,659.00 L412.34,658.99 L412.67,659.01 L413.00,658.98 L413.33,658.99 L413.66,658.98 L413.99,658.97 L414.31,658.97 L414.64,658.98 L414.97,659.01 L415.29,659.02 L415.62,659.02 L415.94,659.03 L416.27,659.04 L416.60,659.06 L416.92,659.06 L417.25,659.05 L417.58,659.06 L417.90,659.10 L418.23,659.09 L418.55,659.09 L418.88,659.12 L419.21,659.11 L419.53,659.14 L419.86,659.13 L420.19,659.14 L420.51,659.15 L420.84,659.17 L421.16,659.17 L421.49,659.18 L421.82,659.19 L422.14,659.19 L422.47,659.21 L422.80,659.22 L423.12,659.24 L423.45,659.23 L423.77,659.24 L424.10,659.26 L424.43,659.25 L424.75,659.26 L425.08,659.28 L425.41,659.30 L425.73,659.30 L426.06,659.29 L426.39,659.29 L426.72,659.28 L427.05,659.27 L427.38,659.27 L427.71,659.25 L428.04,659.24 L428.37,659.25 L428.70,659.23 L429.03,659.23 L429.36,659.21 L429.69,659.20 L430.02,659.20 L430.35,659.20 L430.68,659.18 L431.01,659.18 L431.34,659.16 L431.67,659.17 L432.00,659.14 L432.33,659.13 L432.66,659.13 L432.99,659.12 L433.31,659.13 L433.64,659.10 L433.97,659.11 L434.30,659.09 L434.63,659.08 L434.96,659.10 L435.29,659.07 L435.62,659.06 L435.95,659.08 L436.28,659.06 L436.61,659.04 L436.94,659.05 L437.27,659.02 L437.60,659.03 L437.93,659.01 L438.26,659.01 L438.59,659.02 L438.91,659.00 L439.24,658.98 L439.57,658.99 L439.89,658.99 L440.22,658.97 L440.54,658.97 L440.87,658.98 L441.20,658.96 L441.52,658.96 L441.85,658.92 L442.18,658.93 L442.50,658.91 L442.83,658.93 L443.15,658.90 L443.48,658.92 L443.81,658.90 L444.13,658.89 L444.46,658.89 L444.78,658.87 L445.11,658.87 L445.44,658.87 L445.76,658.85 L446.09,658.86 L446.42,658.88 L446.74,658.86 L447.07,658.89 L447.40,658.91 L447.72,658.91 L448.05,658.94 L448.37,658.93 L448.70,658.96 L449.03,658.98 L449.35,658.97 L449.68,659.00 L450.00,659.02 L450.33,659.01 L450.66,659.05 L450.98,659.04 L451.31,659.07 L451.64,659.07 L451.96,659.07 L452.29,659.10 L452.61,659.11 L452.94,659.13 L453.27,659.15 L453.59,659.16 L453.92,659.17 L454.25,659.17 L454.57,659.19 L454.90,659.20 L455.23,659.20 L455.55,659.24 L455.88,659.25 L456.20,659.25 L456.53,659.28 L456.86,659.29 L457.18,659.30 L457.51,659.31 L457.84,659.32 L458.16,659.34 L458.49,659.34 L458.81,659.35 L459.14,659.38 L459.47,659.38 L459.79,659.39 L460.12,659.39 L460.44,659.38 L460.77,659.36 L461.10,659.36 L461.42,659.36 L461.75,659.35 L462.08,659.33 L462.40,659.31 L462.73,659.30 L463.06,659.30 L463.38,659.30 L463.71,659.30 L464.03,659.27 L464.36,659.26 L464.69,659.26 L465.01,659.24 L465.34,659.24 L465.66,659.21 L465.99,659.21 L466.32,659.22 L466.64,659.19 L466.97,659.20 L467.30,659.18 L467.62,659.17 L467.95,659.17 L468.27,659.17 L468.60,659.13 L468.93,659.15 L469.25,659.12 L469.58,659.12 L469.90,659.09 L470.22,659.11 L470.54,659.11 L470.86,659.09 L471.18,659.08 L471.50,659.07 L471.82,659.06 L472.14,659.07 L472.46,659.06 L472.78,659.06 L473.10,659.06 L473.42,659.02 L473.74,659.02 L474.06,659.02 L474.38,659.03 L474.71,659.00 L475.03,659.00 L475.35,659.00 L475.67,658.98 L475.99,658.99 L476.31,658.99 L476.63,658.97 L476.96,658.99 L477.28,658.99 L477.61,659.01 L477.94,659.00 L478.27,658.99 L478.60,659.00 L478.93,659.00 L479.25,659.01 L479.58,659.03 L479.91,659.03 L480.24,659.04 L480.57,659.03 L480.90,659.05 L481.22,659.06 L481.55,659.05 L481.88,659.05 L482.21,659.08 L482.54,659.06 L482.87,659.10 L483.19,659.10 L483.52,659.10 L483.85,659.09 L484.18,659.09 L484.51,659.10 L484.84,659.12 L485.16,659.11 L485.49,659.14 L485.82,659.14 L486.15,659.13 L486.48,659.14 L486.81,659.15 L487.13,659.14 L487.46,659.14 L487.79,659.13 L488.12,659.14 L488.45,659.12 L488.78,659.12 L489.10,659.11 L489.43,659.12 L489.76,659.10 L490.09,659.11 L490.42,659.11 L490.75,659.11 L491.07,659.09 L491.40,659.10 L491.73,659.07 L492.06,659.09 L492.39,659.09 L492.72,659.08 L493.04,659.05 L493.37,659.07 L493.70,659.07 L494.03,659.07 L494.36,659.06 L494.69,659.04 L495.01,659.03 L495.34,659.03 L495.67,659.02 L496.00,659.04 L496.33,659.02 L496.66,659.02 L496.99,659.01 L497.31,659.00 L497.63,659.00 L497.95,659.00 L498.27,659.03 L498.60,659.00 L498.92,658.99 L499.24,658.99 L499.56,659.02 L499.89,659.02 L500.21,659.02 L500.53,659.03 L500.85,659.00 L501.18,659.00 L501.50,659.00 L501.82,659.00 L502.14,659.00 L502.47,659.01 L502.79,659.00 L503.11,658.98 L503.43,658.97 L503.76,658.92 L504.08,658.92 L504.40,658.90 L504.72,658.87 L505.05,658.87 L505.37,658.84 L505.69,658.82 L506.01,658.78 L506.33,658.78 L506.66,658.76 L506.98,658.71 L507.30,658.71 L507.62,658.68 L507.95,658.67 L508.27,658.67 L508.60,658.71 L508.92,658.70 L509.25,658.71 L509.57,658.70 L509.89,658.72 L510.22,658.71 L510.54,658.73 L510.87,658.75 L511.19,658.73 L511.52,658.77 L511.84,658.75 L512.17,658.78 L512.49,658.80 L512.82,658.80 L513.14,658.78 L513.47,658.78 L513.79,658.83 L514.12,658.81 L514.44,658.82 L514.76,658.81 L515.09,658.85 L515.41,658.84 L515.74,658.85 L516.06,658.84 L516.39,658.87 L516.71,658.85 L517.04,658.89 L517.36,658.90 L517.69,658.88 L518.01,658.90 L518.34,658.92 L518.66,658.91 L518.99,658.94 L519.31,658.92 L519.63,658.93 L519.96,658.93 L520.28,658.94 L520.61,658.96 L520.93,658.97 L521.26,658.97 L521.58,658.95 L521.90,658.90 L522.22,658.91 L522.54,658.85 L522.86,658.86 L523.18,658.82 L523.50,658.79 L523.82,658.74 L524.14,658.73 L524.46,658.71 L524.78,658.66 L525.10,658.66 L525.42,658.63 L525.74,658.60 L526.06,658.56 L526.38,658.53 L526.70,658.51 L527.02,658.50 L527.34,658.47 L527.66,658.46 L527.98,658.39 L528.31,658.38 L528.63,658.38 L528.96,658.38 L529.28,658.42 L529.61,658.41 L529.94,658.40 L530.26,658.42 L530.59,658.45 L530.91,658.44 L531.24,658.42 L531.57,658.46 L531.89,658.47 L532.22,658.47 L532.55,658.46 L532.87,658.46 L533.20,658.50 L533.53,658.51 L533.85,658.51 L534.18,658.51 L534.50,658.51 L534.83,658.53 L535.16,658.53 L535.48,658.54 L535.81,658.51 L536.13,658.54 L536.46,658.51 L536.79,658.53 L537.11,658.47 L537.44,658.50 L537.77,658.47 L538.09,658.42 L538.42,658.42 L538.74,658.40 L539.07,658.41 L539.40,658.40 L539.72,658.36 L540.05,658.38 L540.38,658.36 L540.70,658.33 L541.03,658.34 L541.36,658.30 L541.68,658.26 L542.01,658.25 L542.33,658.25 L542.66,658.23 L542.99,658.22 L543.31,658.23 L543.64,658.18 L543.97,658.17 L544.29,658.16 L544.62,658.11 L544.94,658.08 L545.27,658.09 L545.60,658.06 L545.92,658.02 L546.25,658.02 L546.57,658.02 L546.90,657.96 L547.23,657.92 L547.55,657.91 L547.88,657.89 L548.21,657.86 L548.53,657.85 L548.86,657.83 L549.19,657.82 L549.51,657.81 L549.84,657.77 L550.16,657.79 L550.49,657.74 L550.82,657.69 L551.14,657.67 L551.47,657.66 L551.79,657.64 L552.12,657.65 L552.45,657.62 L552.77,657.60 L553.10,657.57 L553.43,657.58 L553.75,657.54 L554.08,657.50 L554.40,657.55 L554.73,657.49 L555.06,657.47 L555.38,657.49 L555.71,657.46 L556.03,657.42 L556.35,657.34 L556.66,657.39 L556.98,657.30 L557.30,657.30 L557.62,657.20 L557.94,657.14 L558.25,657.14 L558.57,657.15 L558.89,657.06 L559.21,657.02 L559.53,656.96 L559.85,656.94 L560.16,656.89 L560.48,656.83 L560.80,656.83 L561.13,656.98 L561.45,657.14 L561.78,657.24 L562.10,657.46 L562.43,657.57 L562.76,657.74 L563.09,657.73 L563.43,657.67 L563.76,657.70 L564.10,657.60 L564.43,657.63 L564.77,657.63 L565.11,657.59 L565.44,657.56 L565.78,657.57 L566.11,657.51 L566.45,657.48 L566.78,657.43 L567.12,657.44 L567.46,657.40 L567.78,657.40 L568.11,657.38 L568.43,657.30 L568.76,657.26 L569.09,657.27 L569.41,657.28 L569.74,657.19 L570.06,657.21 L570.39,657.20 L570.72,657.18 L571.04,657.09 L571.37,657.06 L571.70,657.05 L572.02,657.04 L572.35,657.01 L572.68,657.02 L573.00,656.91 L573.33,656.95 L573.65,656.89 L573.98,656.85 L574.31,656.82 L574.63,656.83 L574.96,656.83 L575.28,656.78 L575.60,656.76 L575.91,656.79 L576.22,656.69 L576.54,656.73 L576.85,656.65 L577.16,656.70 L577.48,656.67 L577.79,656.67 L578.10,656.63 L578.42,656.61 L578.75,656.64 L579.09,656.66 L579.42,656.56 L579.76,656.61 L580.09,656.61 L580.43,656.60 L580.77,656.57 L581.10,656.58 L581.44,656.55 L581.77,656.54 L582.11,656.57 L582.44,656.49 L582.78,656.50 L583.12,656.54 L583.45,656.67 L583.79,656.65 L584.12,656.72 L584.46,656.81 L584.79,656.96 L585.13,656.96 L585.46,657.07 L585.79,657.00 L586.12,657.01 L586.44,656.95 L586.77,656.79 L587.10,656.77 L587.42,656.76 L587.75,656.72 L588.07,656.66 L588.40,656.60 L588.73,656.47 L589.05,656.47 L589.38,656.39 L589.70,656.42 L590.02,656.30 L590.35,656.29 L590.67,656.35 L590.99,656.23 L591.31,656.24 L591.64,656.20 L591.96,656.19 L592.28,656.14 L592.60,656.13 L592.93,656.10 L593.25,656.16 L593.57,656.07 L593.89,656.07 L594.22,656.02 L594.54,656.04 L594.86,656.01 L595.19,655.95 L595.52,656.00 L595.85,656.04 L596.18,656.04 L596.51,656.05 L596.84,656.00 L597.17,656.06 L597.50,656.00 L597.83,656.05 L598.16,656.00 L598.49,655.99 L598.82,655.99 L599.15,655.94 L599.48,656.06 L599.81,655.94 L600.13,655.99 L600.46,655.97 L600.79,655.96 L601.12,655.98 L601.45,655.91 L601.77,655.96 L602.09,655.94 L602.41,655.84 L602.74,655.95 L603.06,655.85 L603.38,655.83 L603.70,655.91 L604.03,655.80 L604.35,655.77 L604.67,655.72 L604.99,655.79 L605.32,655.67 L605.64,655.73 L605.96,655.71 L606.28,655.63 L606.61,655.67 L606.94,655.73 L607.28,655.60 L607.61,655.59 L607.95,655.62 L608.28,655.51 L608.62,655.57 L608.95,655.53 L609.29,655.50 L609.63,655.44 L609.96,655.51 L610.30,655.46 L610.63,655.44 L610.97,655.40 L611.30,655.38 L611.62,655.36 L611.93,655.48 L612.24,655.43 L612.56,655.53 L612.87,655.54 L613.18,655.61 L613.50,655.61 L613.81,655.56 L614.12,655.65 L614.43,655.70 L614.76,655.64 L615.09,655.70 L615.41,655.69 L615.74,655.68 L616.07,655.62 L616.39,655.59 L616.72,655.56 L617.04,655.66 L617.37,655.54 L617.70,655.50 L618.02,655.54 L618.35,655.53 L618.68,655.54 L619.00,655.43 L619.33,655.42 L619.66,655.33 L619.98,655.14 L620.31,655.13 L620.63,655.05 L620.96,654.96 L621.29,654.88 L621.61,654.87 L621.94,654.80 L622.26,654.76 L622.59,654.68 L622.92,654.60 L623.24,654.56 L623.57,654.48 L623.90,654.52 L624.22,654.37 L624.55,654.35 L624.87,654.22 L625.20,654.30 L625.53,654.23 L625.85,654.20 L626.18,654.04 L626.51,653.96 L626.83,653.90 L627.16,653.93 L627.49,653.97 L627.81,653.85 L628.14,653.83 L628.46,653.86 L628.79,653.90 L629.12,653.87 L629.44,653.82 L629.77,653.81 L630.10,653.75 L630.42,653.68 L630.75,653.54 L631.07,653.38 L631.40,653.50 L631.73,653.29 L632.05,653.33 L632.38,653.23 L632.70,652.97 L633.03,652.94 L633.36,652.76 L633.68,652.79 L634.01,652.69 L634.34,652.71 L634.66,652.50 L634.99,652.33 L635.32,652.12 L635.64,652.00 L635.97,652.03 L636.29,651.93 L636.62,651.91 L636.95,651.64 L637.27,651.66 L637.60,651.57 L637.92,651.35 L638.26,651.43 L638.60,651.37 L638.93,651.08 L639.27,651.19 L639.60,650.85 L639.94,651.07 L640.27,650.87 L640.59,650.70 L640.90,650.89 L641.21,650.88 L641.53,650.60 L641.84,650.62 L642.15,650.57 L642.48,650.33 L642.81,649.91 L643.13,649.57 L643.46,649.41 L643.78,649.48 L644.11,649.31 L644.44,649.58 L644.76,649.51 L645.09,649.20 L645.42,649.10 L645.74,649.08 L646.07,649.22 L646.39,649.88 L646.72,650.80 L647.05,650.43 L647.37,650.22 L647.70,649.98 L648.03,649.44 L648.35,649.07 L648.68,648.81 L649.00,648.41 L649.33,648.18 L649.66,647.96 L649.98,647.70 L650.31,647.71 L650.64,648.09 L650.96,647.97 L651.29,647.63 L651.61,647.19 L651.94,647.16 L652.27,647.22 L652.59,647.48 L652.92,647.37 L653.25,646.80 L653.57,647.24 L653.90,647.22 L654.22,647.19 L654.55,647.30 L654.88,647.34 L655.20,647.67 L655.53,647.47 L655.86,646.89 L656.18,646.86 L656.51,646.65 L656.83,646.15 L657.16,645.87 L657.49,646.40 L657.81,646.59 L658.14,646.55 L658.47,646.86 L658.79,646.23 L659.12,645.59 L659.44,646.04 L659.77,646.03 L660.10,646.25 L660.42,646.34 L660.75,646.14 L661.08,646.01 L661.40,646.16 L661.73,646.24 L662.05,645.73 L662.38,645.41 L662.71,645.98 L663.03,646.19 L663.36,646.07 L663.69,646.26 L664.01,646.87 L664.34,647.36 L664.66,647.26 L664.99,647.30 L665.32,647.02 L665.64,646.87 L665.97,647.51 L666.30,648.08 L666.62,648.51 L666.95,648.84 L667.27,648.30 L667.60,647.99 L667.93,647.76 L668.25,647.92 L668.58,647.95 L668.91,648.23 L669.23,648.26 L669.56,648.35 L669.88,648.81 L670.21,649.10 L670.54,649.71 L670.86,649.99 L671.19,649.73 L671.52,649.81 L671.84,649.35 L672.17,649.04 L672.49,648.87 L672.82,648.96 L673.15,649.11 L673.47,649.13 L673.80,649.20 L674.13,649.36 L674.45,648.98 L674.78,648.97 L675.10,649.18 L675.43,649.64 L675.76,649.65 L676.08,649.74 L676.41,650.18 L676.74,650.48 L677.06,650.88 L677.39,651.23 L677.71,651.09 L678.04,651.19 L678.37,651.71 L678.69,652.16 L679.02,651.77 L679.35,651.48 L679.67,651.21 L680.00,651.00 L680.32,651.14 L680.65,651.54 L680.98,651.56 L681.30,651.77 L681.63,651.91 L681.96,651.91 L682.28,652.02 L682.61,651.84 L682.93,651.59 L683.26,651.18 L683.59,650.98 L683.91,650.73 L684.24,650.65 L684.57,650.63 L684.89,650.45 L685.22,650.48 L685.54,650.26 L685.87,650.31 L686.20,650.52 L686.52,650.42 L686.85,650.04 L687.18,649.90 L687.50,649.75 L687.83,649.83 L688.15,649.43 L688.48,649.31 L688.81,649.19 L689.13,649.12 L689.46,649.15 L689.79,648.99 L690.11,648.94 L690.44,649.17 L690.76,649.14 L691.09,649.35 L691.42,649.22 L691.74,649.22 L692.07,648.97 L692.40,649.03 L692.72,649.28 L693.05,649.41 L693.37,649.55 L693.70,649.38 L694.03,649.31 L694.35,649.28 L694.68,649.09 L695.01,649.13 L695.33,649.04 L695.66,648.71 L695.98,648.43 L696.31,648.35 L696.64,648.32 L696.96,648.64 L697.29,648.64 L697.62,648.43 L697.94,648.49 L698.27,648.65 L698.59,648.69 L698.92,648.88 L699.25,648.72 L699.57,648.54 L699.90,648.67 L700.23,648.54 L700.55,648.44 L700.88,648.13 L701.20,648.09 L701.53,648.27 L701.86,648.10 L702.18,648.18 L702.51,648.31 L702.84,648.39 L703.16,648.37 L703.49,647.99 L703.81,647.86 L704.14,648.00 L704.47,647.73 L704.79,647.69 L705.12,647.81 L705.45,647.69 L705.77,647.58 L706.10,647.55 L706.42,647.29 L706.75,647.40 L707.08,647.42 L707.40,647.79 L707.73,647.78 L708.06,647.79 L708.38,647.77 L708.71,647.72 L709.03,647.55 L709.36,647.46 L709.69,647.45 L710.01,647.16 L710.34,647.10 L710.67,646.75 L710.99,646.80 L711.32,646.53 L711.64,646.35 L711.97,646.36 L712.30,646.33 L712.62,646.17 L712.95,646.29 L713.28,646.47 L713.60,646.45 L713.93,646.34 L714.25,646.03 L714.58,645.75 L714.91,645.70 L715.23,645.28 L715.56,645.65 L715.89,645.54 L716.21,645.52 L716.54,646.01 L716.86,645.98 L717.19,645.83 L717.52,645.78 L717.84,645.32 L718.17,645.14 L718.50,645.10 L718.82,645.28 L719.15,645.76 L719.47,646.00 L719.80,645.88 L720.13,646.27 L720.45,646.74 L720.78,647.05 L721.11,647.21 L721.43,647.23 L721.76,647.28 L722.08,647.20 L722.41,646.68 L722.74,646.83 L723.06,646.53 L723.39,646.89 L723.72,647.69 L724.04,647.59 L724.37,647.81 L724.69,647.75 L725.02,647.67 L725.35,648.20 L725.67,648.78 L726.00,649.82 L726.33,650.69 L726.65,650.94 L726.98,651.38 L727.30,651.37 L727.63,651.31 L727.96,651.55 L728.28,652.06 L728.61,652.42 L728.94,652.93 L729.26,652.55 L729.59,652.33 L729.91,651.83 L730.24,651.61 L730.57,651.46 L730.89,651.16 L731.22,651.31 L731.55,651.16 L731.87,650.93 L732.20,650.50 L732.52,650.46 L732.85,650.19 L733.18,650.16 L733.50,649.84 L733.83,650.10 L734.16,650.04 L734.48,649.73 L734.81,649.47 L735.13,649.23 L735.46,649.28 L735.79,649.49 L736.11,649.67 L736.44,649.36 L736.77,649.38 L737.09,648.91 L737.42,648.76 L737.74,648.85 L738.07,648.59 L738.40,649.02 L738.72,649.52 L739.05,649.84 L739.38,650.09 L739.70,649.89 L740.03,649.41 L740.35,649.49 L740.68,649.91 L741.01,649.56 L741.33,649.03 L741.66,648.80 L741.99,648.62 L742.31,648.58 L742.64,648.65 L742.96,648.09 L743.29,647.91 L743.62,647.70 L743.94,647.63 L744.27,647.48 L744.60,647.24 L744.92,647.27 L745.25,647.25 L745.57,647.23 L745.90,646.89 L746.23,646.76 L746.55,647.07 L746.88,646.96 L747.21,647.30 L747.53,647.56 L747.86,647.57 L748.18,648.13 L748.51,648.28 L748.84,648.80 L749.16,649.12 L749.49,648.60 L749.82,647.95 L750.14,647.81 L750.47,648.01 L750.79,647.78 L751.12,647.91 L751.45,647.49 L751.77,647.38 L752.10,647.33 L752.43,646.87 L752.75,646.53 L753.08,646.46 L753.40,646.41 L753.73,646.56 L754.06,646.91 L754.38,647.40 L754.71,646.93 L755.04,646.90 L755.36,647.03 L755.69,646.74 L756.01,646.78 L756.34,646.48 L756.67,646.19 L756.99,646.15 L757.32,646.07 L757.65,646.42 L757.97,646.32 L758.30,646.38 L758.62,646.43 L758.95,646.29 L759.28,645.89 L759.60,645.60 L759.93,645.38 L760.26,645.44 L760.58,645.38 L760.91,644.91 L761.23,644.87 L761.56,644.64 L761.89,644.62 L762.21,644.32 L762.54,644.65 L762.87,644.55 L763.19,644.18 L763.52,643.79 L763.84,644.24 L764.17,644.30 L764.50,644.21 L764.82,643.83 L765.15,643.68 L765.48,643.11 L765.80,642.76 L766.13,642.64 L766.45,642.74 L766.78,642.23 L767.11,642.41 L767.43,642.86 L767.76,642.68 L768.09,642.12 L768.41,642.36 L768.74,642.00 L769.06,641.66 L769.39,641.89 L769.72,641.88 L770.04,641.50 L770.37,641.04 L770.70,641.15 L771.02,641.05 L771.35,641.44 L771.67,640.82 L772.00,640.74 L772.33,641.13 L772.65,641.04 L772.98,640.85 L773.31,640.60 L773.63,640.64 L773.96,640.12 L774.28,639.86 L774.61,640.20 L774.94,640.27 L775.26,640.82 L775.59,640.20 L775.92,639.76 L776.24,639.97 L776.57,640.12 L776.89,640.15 L777.22,639.95 L777.55,639.61 L777.87,639.74 L778.20,639.97 L778.53,640.16 L778.85,639.87 L779.18,639.77 L779.50,640.66 L779.83,641.04 L780.16,641.47 L780.48,641.54 L780.81,641.08 L781.14,640.01 L781.46,639.85 L781.79,640.00 L782.11,640.13 L782.44,640.35 L782.77,641.09 L783.09,641.34 L783.42,641.13 L783.75,641.42 L784.07,640.97 L784.40,640.19 L784.72,640.23 L785.05,640.14 L785.38,640.24 L785.70,639.84 L786.03,639.99 L786.36,639.82 L786.68,639.21 L787.01,639.10 L787.33,639.24 L787.66,639.13 L787.99,639.39 L788.31,639.15 L788.64,639.36 L788.97,639.56 L789.29,639.34 L789.62,638.86 L789.94,638.36 L790.27,638.47 L790.60,638.58 L790.92,638.09 L791.25,637.30 L791.58,637.27 L791.90,637.64 L792.23,637.28 L792.55,636.85 L792.88,637.08 L793.21,636.80 L793.53,636.81 L793.86,637.00 L794.19,636.70 L794.51,636.49 L794.84,636.25 L795.16,636.42 L795.49,636.23 L795.82,636.21 L796.14,635.78 L796.47,635.77 L796.80,635.24 L797.12,635.01 L797.45,634.54 L797.77,633.97 L798.10,634.29 L798.43,633.10 L798.75,632.85 L799.08,632.97 L799.41,633.91 L799.73,634.63 L800.06,634.61 L800.06,660 Z" fill="#bbbbbb" clip-path="url(#c1)"/>
<path d="M92.96,660 L92.96,659.83 L93.29,659.83 L93.63,659.83 L93.96,659.83 L94.30,659.83 L94.63,659.82 L94.97,659.82 L95.31,659.82 L95.64,659.82 L95.98,659.82 L96.31,659.82 L96.65,659.82 L96.98,659.82 L97.32,659.81 L97.65,659.81 L97.98,659.81 L98.31,659.81 L98.63,659.80 L98.96,659.80 L99.29,659.79 L99.61,659.79 L99.94,659.79 L100.26,659.78 L100.59,659.78 L100.92,659.77 L101.24,659.77 L101.57,659.76 L101.89,659.76 L102.21,659.76 L102.54,659.75 L102.86,659.75 L103.18,659.75 L103.50,659.74 L103.83,659.74 L104.15,659.73 L104.47,659.73 L104.79,659.73 L105.12,659.73 L105.44,659.72 L105.76,659.71 L106.08,659.71 L106.41,659.71 L106.73,659.70 L107.05,659.70 L107.36,659.72 L107.68,659.74 L107.99,659.76 L108.30,659.78 L108.62,659.80 L108.93,659.80 L109.24,659.79 L109.56,659.79 L109.87,659.78 L110.18,659.78 L110.50,659.78 L110.81,659.77 L111.12,659.77 L111.44,659.76 L111.75,659.76 L112.07,659.76 L112.39,659.77 L112.72,659.78 L113.04,659.78 L113.36,659.79 L113.68,659.79 L114.01,659.80 L114.33,659.80 L114.65,659.81 L114.97,659.81 L115.30,659.82 L115.62,659.82 L115.94,659.83 L116.26,659.83 L116.59,659.84 L116.91,659.85 L117.23,659.85 L117.56,659.85 L117.88,659.86 L118.21,659.86 L118.54,659.86 L118.86,659.86 L119.19,659.87 L119.51,659.87 L119.84,659.88 L120.17,659.88 L120.49,659.88 L120.82,659.88 L121.14,659.89 L121.47,659.89 L121.80,659.89 L122.12,659.90 L122.45,659.90 L122.78,659.90 L123.10,659.91 L123.43,659.91 L123.75,659.91 L124.08,659.91 L124.41,659.92 L124.73,659.92 L125.06,659.92 L125.39,659.92 L125.71,659.93 L126.04,659.93 L126.37,659.93 L126.69,659.94 L127.02,659.94 L127.34,659.94 L127.67,659.95 L128.00,659.95 L128.32,659.95 L128.65,659.95 L128.98,659.96 L129.30,659.95 L129.63,659.95 L129.95,659.95 L130.28,659.95 L130.61,659.94 L130.93,659.94 L131.26,659.94 L131.58,659.93 L131.91,659.93 L132.24,659.93 L132.56,659.93 L132.89,659.92 L133.22,659.92 L133.54,659.92 L133.87,659.92 L134.20,659.91 L134.52,659.91 L134.85,659.91 L135.17,659.91 L135.50,659.91 L135.83,659.90 L136.15,659.90 L136.48,659.90 L136.80,659.89 L137.13,659.90 L137.46,659.90 L137.78,659.90 L138.11,659.90 L138.44,659.90 L138.76,659.90 L139.09,659.90 L139.41,659.90 L139.74,659.90 L140.07,659.90 L140.39,659.90 L140.72,659.90 L141.05,659.90 L141.37,659.90 L141.70,659.90 L142.03,659.91 L142.35,659.90 L142.68,659.90 L143.00,659.91 L143.33,659.91 L143.66,659.91 L143.98,659.91 L144.31,659.91 L144.63,659.91 L144.96,659.91 L145.29,659.91 L145.61,659.91 L145.94,659.91 L146.27,659.90 L146.59,659.90 L146.92,659.90 L147.24,659.90 L147.57,659.90 L147.90,659.90 L148.22,659.90 L148.55,659.89 L148.88,659.89 L149.20,659.89 L149.53,659.89 L149.86,659.89 L150.18,659.89 L150.51,659.89 L150.83,659.89 L151.16,659.89 L151.49,659.89 L151.81,659.88 L152.14,659.88 L152.46,659.88 L152.79,659.88 L153.12,659.88 L153.44,659.88 L153.77,659.88 L154.10,659.88 L154.42,659.88 L154.75,659.88 L155.07,659.88 L155.40,659.87 L155.73,659.87 L156.05,659.87 L156.38,659.87 L156.70,659.87 L157.03,659.87 L157.35,659.86 L157.68,659.86 L158.00,659.86 L158.32,659.86 L158.65,659.86 L158.97,659.86 L159.30,659.86 L159.62,659.86 L159.94,659.85 L160.27,659.85 L160.59,659.85 L160.92,659.85 L161.24,659.84 L161.56,659.84 L161.89,659.84 L162.21,659.84 L162.54,659.84 L162.86,659.84 L163.18,659.83 L163.51,659.83 L163.83,659.83 L164.16,659.83 L164.48,659.83 L164.80,659.83 L165.13,659.82 L165.45,659.82 L165.78,659.82 L166.11,659.83 L166.44,659.83 L166.77,659.83 L167.10,659.84 L167.43,659.84 L167.76,659.85 L168.09,659.84 L168.43,659.85 L168.76,659.86 L169.09,659.86 L169.42,659.86 L169.75,659.86 L170.08,659.87 L170.41,659.87 L170.75,659.88 L171.08,659.88 L171.41,659.88 L171.74,659.88 L172.07,659.89 L172.40,659.89 L172.73,659.90 L173.06,659.90 L173.40,659.90 L173.73,659.91 L174.06,659.91 L174.39,659.91 L174.71,659.91 L175.03,659.91 L175.36,659.91 L175.68,659.91 L176.00,659.90 L176.32,659.90 L176.65,659.90 L176.97,659.90 L177.29,659.89 L177.61,659.89 L177.94,659.89 L178.26,659.89 L178.58,659.88 L178.90,659.88 L179.23,659.88 L179.55,659.88 L179.87,659.88 L180.20,659.88 L180.52,659.88 L180.85,659.88 L181.18,659.88 L181.50,659.88 L181.83,659.88 L182.15,659.88 L182.48,659.88 L182.81,659.88 L183.13,659.88 L183.46,659.88 L183.78,659.88 L184.11,659.88 L184.44,659.89 L184.76,659.89 L185.09,659.89 L185.42,659.89 L185.74,659.89 L186.07,659.89 L186.39,659.89 L186.72,659.89 L187.05,659.89 L187.37,659.89 L187.70,659.89 L188.03,659.90 L188.35,659.90 L188.68,659.90 L189.01,659.90 L189.33,659.90 L189.66,659.90 L189.98,659.90 L190.31,659.90 L190.64,659.90 L190.96,659.90 L191.29,659.90 L191.62,659.90 L191.94,659.90 L192.27,659.90 L192.60,659.90 L192.93,659.91 L193.25,659.91 L193.58,659.91 L193.91,659.91 L194.24,659.91 L194.56,659.91 L194.89,659.91 L195.22,659.91 L195.55,659.91 L195.88,659.91 L196.20,659.91 L196.53,659.91 L196.86,659.91 L197.19,659.91 L197.51,659.91 L197.84,659.91 L198.17,659.91 L198.50,659.91 L198.83,659.92 L199.15,659.91 L199.48,659.92 L199.81,659.92 L200.14,659.92 L200.46,659.92 L200.79,659.92 L201.12,659.92 L201.45,659.92 L201.78,659.92 L202.10,659.92 L202.43,659.92 L202.76,659.92 L203.09,659.92 L203.41,659.92 L203.74,659.92 L204.07,659.92 L204.40,659.93 L204.73,659.92 L205.05,659.92 L205.38,659.92 L205.71,659.93 L206.03,659.93 L206.36,659.92 L206.68,659.92 L207.01,659.92 L207.33,659.92 L207.66,659.92 L207.98,659.92 L208.31,659.92 L208.63,659.92 L208.96,659.92 L209.28,659.92 L209.60,659.91 L209.93,659.91 L210.25,659.91 L210.58,659.91 L210.90,659.91 L211.23,659.91 L211.55,659.91 L211.88,659.91 L212.20,659.90 L212.53,659.90 L212.85,659.90 L213.18,659.90 L213.50,659.90 L213.83,659.90 L214.15,659.90 L214.47,659.90 L214.80,659.90 L215.12,659.90 L215.45,659.89 L215.77,659.90 L216.10,659.90 L216.42,659.89 L216.75,659.89 L217.07,659.89 L217.40,659.89 L217.72,659.89 L218.05,659.89 L218.37,659.89 L218.70,659.89 L219.02,659.88 L219.34,659.88 L219.67,659.88 L219.99,659.88 L220.32,659.88 L220.64,659.88 L220.96,659.88 L221.29,659.88 L221.61,659.88 L221.94,659.87 L222.26,659.87 L222.58,659.87 L222.91,659.87 L223.23,659.87 L223.56,659.87 L223.88,659.87 L224.20,659.87 L224.53,659.86 L224.85,659.86 L225.18,659.86 L225.50,659.86 L225.82,659.86 L226.15,659.86 L226.47,659.86 L226.80,659.86 L227.12,659.85 L227.44,659.85 L227.77,659.85 L228.09,659.85 L228.42,659.85 L228.74,659.85 L229.06,659.85 L229.39,659.85 L229.71,659.85 L230.04,659.85 L230.36,659.85 L230.68,659.84 L231.01,659.84 L231.33,659.84 L231.66,659.84 L231.98,659.84 L232.30,659.84 L232.63,659.84 L232.95,659.84 L233.28,659.83 L233.60,659.83 L233.92,659.83 L234.25,659.83 L234.57,659.83 L234.90,659.83 L235.22,659.82 L235.54,659.83 L235.87,659.83 L236.19,659.83 L236.52,659.82 L236.84,659.82 L237.16,659.82 L237.49,659.82 L237.81,659.82 L238.14,659.82 L238.47,659.82 L238.81,659.82 L239.14,659.83 L239.47,659.83 L239.80,659.83 L240.13,659.83 L240.46,659.83 L240.79,659.83 L241.12,659.83 L241.46,659.83 L241.79,659.83 L242.12,659.84 L242.45,659.84 L242.78,659.84 L243.11,659.84 L243.44,659.84 L243.77,659.84 L244.11,659.85 L244.44,659.85 L244.77,659.85 L245.10,659.85 L245.43,659.85 L245.76,659.85 L246.09,659.85 L246.43,659.86 L246.75,659.85 L247.08,659.85 L247.40,659.86 L247.73,659.86 L248.06,659.86 L248.38,659.85 L248.71,659.85 L249.03,659.85 L249.36,659.86 L249.69,659.85 L250.01,659.86 L250.34,659.86 L250.67,659.86 L250.99,659.86 L251.32,659.86 L251.65,659.86 L251.97,659.86 L252.30,659.86 L252.62,659.86 L252.95,659.86 L253.28,659.86 L253.60,659.86 L253.93,659.86 L254.25,659.86 L254.58,659.86 L254.91,659.86 L255.23,659.86 L255.56,659.86 L255.89,659.86 L256.21,659.86 L256.54,659.86 L256.86,659.86 L257.19,659.86 L257.52,659.86 L257.84,659.86 L258.17,659.86 L258.50,659.86 L258.82,659.86 L259.15,659.86 L259.48,659.86 L259.80,659.86 L260.13,659.86 L260.45,659.86 L260.78,659.86 L261.11,659.86 L261.43,659.86 L261.76,659.86 L262.08,659.86 L262.41,659.86 L262.74,659.86 L263.06,659.86 L263.39,659.85 L263.72,659.86 L264.04,659.85 L264.37,659.85 L264.69,659.85 L265.02,659.85 L265.35,659.85 L265.67,659.85 L266.00,659.84 L266.33,659.84 L266.65,659.84 L266.98,659.84 L267.31,659.84 L267.63,659.84 L267.96,659.83 L268.28,659.83 L268.61,659.84 L268.94,659.83 L269.26,659.83 L269.59,659.83 L269.92,659.83 L270.24,659.83 L270.57,659.83 L270.89,659.82 L271.22,659.82 L271.55,659.82 L271.87,659.82 L272.20,659.82 L272.52,659.81 L272.85,659.81 L273.18,659.81 L273.50,659.81 L273.83,659.81 L274.16,659.80 L274.48,659.80 L274.81,659.80 L275.14,659.80 L275.46,659.80 L275.79,659.80 L276.11,659.80 L276.44,659.79 L276.77,659.79 L277.09,659.79 L277.42,659.79 L277.75,659.79 L278.07,659.79 L278.40,659.78 L278.72,659.79 L279.05,659.78 L279.38,659.78 L279.70,659.78 L280.03,659.77 L280.35,659.77 L280.68,659.77 L281.01,659.77 L281.33,659.77 L281.66,659.77 L281.98,659.77 L282.31,659.77 L282.63,659.77 L282.96,659.77 L283.28,659.77 L283.61,659.77 L283.93,659.77 L284.26,659.77 L284.58,659.77 L284.91,659.77 L285.23,659.77 L285.56,659.77 L285.88,659.77 L286.21,659.77 L286.53,659.78 L286.85,659.77 L287.18,659.77 L287.50,659.77 L287.83,659.77 L288.15,659.77 L288.48,659.77 L288.80,659.77 L289.13,659.77 L289.45,659.77 L289.78,659.78 L290.10,659.77 L290.43,659.78 L290.75,659.77 L291.08,659.77 L291.40,659.78 L291.72,659.78 L292.05,659.77 L292.37,659.78 L292.70,659.78 L293.02,659.78 L293.35,659.78 L293.67,659.78 L294.00,659.77 L294.32,659.78 L294.65,659.78 L294.97,659.78 L295.30,659.78 L295.63,659.77 L295.96,659.77 L296.28,659.77 L296.61,659.76 L296.94,659.76 L297.27,659.75 L297.60,659.75 L297.93,659.75 L298.25,659.73 L298.58,659.73 L298.91,659.73 L299.24,659.73 L299.57,659.73 L299.90,659.72 L300.22,659.72 L300.55,659.71 L300.88,659.71 L301.21,659.70 L301.54,659.70 L301.87,659.69 L302.19,659.69 L302.52,659.69 L302.85,659.68 L303.18,659.68 L303.51,659.68 L303.84,659.67 L304.16,659.67 L304.49,659.66 L304.82,659.65 L305.15,659.65 L305.48,659.66 L305.80,659.65 L306.13,659.64 L306.46,659.64 L306.78,659.64 L307.11,659.64 L307.43,659.63 L307.76,659.63 L308.09,659.63 L308.41,659.62 L308.74,659.61 L309.06,659.61 L309.39,659.62 L309.72,659.62 L310.04,659.60 L310.37,659.60 L310.70,659.60 L311.02,659.59 L311.35,659.60 L311.67,659.59 L312.00,659.58 L312.33,659.58 L312.65,659.57 L312.98,659.57 L313.31,659.58 L313.63,659.58 L313.96,659.57 L314.29,659.56 L314.61,659.56 L314.94,659.55 L315.26,659.55 L315.59,659.55 L315.92,659.54 L316.24,659.55 L316.57,659.54 L316.89,659.54 L317.22,659.55 L317.55,659.54 L317.88,659.55 L318.21,659.54 L318.54,659.55 L318.87,659.56 L319.19,659.56 L319.52,659.56 L319.85,659.56 L320.18,659.56 L320.51,659.57 L320.84,659.57 L321.16,659.57 L321.49,659.57 L321.82,659.58 L322.15,659.58 L322.48,659.58 L322.81,659.59 L323.13,659.59 L323.46,659.59 L323.79,659.58 L324.12,659.59 L324.45,659.59 L324.78,659.60 L325.10,659.60 L325.43,659.61 L325.76,659.60 L326.09,659.61 L326.42,659.61 L326.75,659.62 L327.07,659.62 L327.40,659.61 L327.72,659.60 L328.05,659.60 L328.37,659.60 L328.70,659.59 L329.02,659.58 L329.35,659.59 L329.67,659.59 L330.00,659.58 L330.32,659.57 L330.65,659.56 L330.97,659.57 L331.29,659.55 L331.62,659.55 L331.94,659.55 L332.27,659.55 L332.59,659.53 L332.92,659.54 L333.24,659.53 L333.57,659.53 L333.89,659.53 L334.22,659.51 L334.54,659.52 L334.87,659.50 L335.19,659.50 L335.52,659.51 L335.84,659.50 L336.16,659.49 L336.49,659.48 L336.81,659.47 L337.14,659.48 L337.46,659.47 L337.79,659.47 L338.11,659.45 L338.44,659.47 L338.76,659.46 L339.09,659.46 L339.41,659.45 L339.74,659.43 L340.06,659.43 L340.38,659.43 L340.71,659.43 L341.04,659.43 L341.37,659.43 L341.70,659.44 L342.03,659.45 L342.36,659.43 L342.68,659.44 L343.01,659.45 L343.34,659.44 L343.67,659.45 L344.00,659.45 L344.33,659.45 L344.65,659.46 L344.98,659.46 L345.31,659.46 L345.64,659.46 L345.97,659.45 L346.30,659.47 L346.62,659.45 L346.95,659.47 L347.28,659.47 L347.61,659.46 L347.94,659.46 L348.27,659.47 L348.59,659.48 L348.92,659.47 L349.25,659.48 L349.58,659.47 L349.91,659.48 L350.24,659.48 L350.56,659.48 L350.90,659.47 L351.23,659.48 L351.56,659.46 L351.89,659.45 L352.22,659.44 L352.55,659.45 L352.88,659.45 L353.21,659.44 L353.55,659.42 L353.88,659.42 L354.21,659.41 L354.54,659.40 L354.87,659.40 L355.20,659.40 L355.53,659.38 L355.86,659.38 L356.20,659.38 L356.53,659.36 L356.86,659.37 L357.19,659.36 L357.52,659.36 L357.85,659.34 L358.18,659.33 L358.51,659.33 L358.85,659.31 L359.18,659.32 L359.51,659.34 L359.85,659.35 L360.18,659.35 L360.52,659.35 L360.85,659.36 L361.19,659.39 L361.53,659.40 L361.86,659.41 L362.20,659.42 L362.53,659.42 L362.87,659.44 L363.20,659.44 L363.54,659.46 L363.88,659.47 L364.20,659.46 L364.53,659.45 L364.85,659.45 L365.18,659.45 L365.51,659.45 L365.83,659.44 L366.16,659.43 L366.48,659.43 L366.81,659.43 L367.14,659.41 L367.46,659.41 L367.79,659.41 L368.12,659.41 L368.44,659.39 L368.77,659.39 L369.10,659.37 L369.42,659.37 L369.75,659.36 L370.07,659.37 L370.40,659.37 L370.73,659.36 L371.05,659.35 L371.38,659.34 L371.70,659.34 L372.03,659.34 L372.36,659.33 L372.68,659.32 L373.01,659.31 L373.34,659.30 L373.66,659.29 L373.99,659.29 L374.31,659.30 L374.64,659.28 L374.97,659.29 L375.29,659.27 L375.62,659.27 L375.95,659.27 L376.27,659.26 L376.60,659.27 L376.93,659.26 L377.25,659.26 L377.58,659.26 L377.90,659.23 L378.23,659.24 L378.56,659.24 L378.88,659.24 L379.21,659.22 L379.54,659.23 L379.86,659.23 L380.19,659.21 L380.51,659.21 L380.84,659.20 L381.17,659.22 L381.49,659.21 L381.82,659.20 L382.14,659.19 L382.47,659.19 L382.80,659.21 L383.12,659.20 L383.45,659.20 L383.78,659.19 L384.10,659.17 L384.43,659.17 L384.76,659.16 L385.08,659.17 L385.41,659.16 L385.73,659.17 L386.06,659.17 L386.39,659.15 L386.71,659.14 L387.04,659.16 L387.37,659.14 L387.69,659.14 L388.02,659.15 L388.34,659.14 L388.67,659.14 L389.00,659.14 L389.32,659.13 L389.65,659.12 L389.97,659.11 L390.30,659.13 L390.63,659.13 L390.95,659.11 L391.28,659.11 L391.61,659.11 L391.94,659.13 L392.27,659.14 L392.60,659.15 L392.93,659.14 L393.26,659.16 L393.59,659.18 L393.92,659.19 L394.25,659.19 L394.58,659.20 L394.91,659.20 L395.24,659.23 L395.57,659.23 L395.90,659.23 L396.23,659.24 L396.55,659.26 L396.88,659.27 L397.21,659.26 L397.54,659.28 L397.87,659.28 L398.20,659.26 L398.53,659.26 L398.86,659.26 L399.19,659.24 L399.52,659.23 L399.85,659.24 L400.17,659.24 L400.50,659.22 L400.83,659.23 L401.16,659.23 L401.49,659.19 L401.82,659.20 L402.15,659.18 L402.48,659.19 L402.81,659.17 L403.13,659.18 L403.46,659.18 L403.79,659.18 L404.12,659.15 L404.45,659.15 L404.78,659.13 L405.11,659.15 L405.44,659.13 L405.77,659.13 L406.09,659.12 L406.42,659.12 L406.75,659.11 L407.08,659.10 L407.41,659.08 L407.74,659.10 L408.07,659.08 L408.40,659.07 L408.73,659.05 L409.05,659.07 L409.38,659.07 L409.71,659.04 L410.04,659.03 L410.37,659.04 L410.70,659.05 L411.03,659.01 L411.36,659.02 L411.68,659.00 L412.01,659.00 L412.34,658.99 L412.67,659.01 L413.00,658.98 L413.33,658.99 L413.66,658.98 L413.99,658.97 L414.31,658.97 L414.64,658.98 L414.97,659.01 L415.29,659.02 L415.62,659.02 L415.94,659.03 L416.27,659.04 L416.60,659.06 L416.92,659.06 L417.25,659.05 L417.58,659.06 L417.90,659.10 L418.23,659.09 L418.55,659.09 L418.88,659.12 L419.21,659.11 L419.53,659.14 L419.86,659.13 L420.19,659.14 L420.51,659.15 L420.84,659.17 L421.16,659.17 L421.49,659.18 L421.82,659.19 L422.14,659.19 L422.47,659.21 L422.80,659.22 L423.12,659.24 L423.45,659.23 L423.77,659.24 L424.10,659.26 L424.43,659.25 L424.75,659.26 L425.08,659.28 L425.41,659.30 L425.73,659.30 L426.06,659.29 L426.39,659.29 L426.72,659.28 L427.05,659.27 L427.38,659.27 L427.71,659.25 L428.04,659.24 L428.37,659.25 L428.70,659.23 L429.03,659.23 L429.36,659.21 L429.69,659.20 L430.02,659.20 L430.35,659.20 L430.68,659.18 L431.01,659.18 L431.34,659.16 L431.67,659.17 L432.00,659.14 L432.33,659.13 L432.66,659.13 L432.99,659.12 L433.31,659.13 L433.64,659.10 L433.97,659.11 L434.30,659.09 L434.63,659.08 L434.96,659.10 L435.29,659.07 L435.62,659.06 L435.95,659.08 L436.28,659.06 L436.61,659.04 L436.94,659.05 L437.27,659.02 L437.60,659.03 L437.93,659.01 L438.26,659.01 L438.59,659.02 L438.91,659.00 L439.24,658.98 L439.57,658.99 L439.89,658.99 L440.22,658.97 L440.54,658.97 L440.87,658.98 L441.20,658.96 L441.52,658.96 L441.85,658.92 L442.18,658.93 L442.50,658.91 L442.83,658.93 L443.15,658.90 L443.48,658.92 L443.81,658.90 L444.13,658.89 L444.46,658.89 L444.78,658.87 L445.11,658.87 L445.44,658.87 L445.76,658.85 L446.09,658.86 L446.42,658.88 L446.74,658.86 L447.07,658.89 L447.40,658.91 L447.72,658.91 L448.05,658.94 L448.37,658.93 L448.70,658.96 L449.03,658.98 L449.35,658.97 L449.68,659.00 L450.00,659.02 L450.33,659.01 L450.66,659.05 L450.98,659.04 L451.31,659.07 L451.64,659.07 L451.96,659.07 L452.29,659.10 L452.61,659.11 L452.94,659.13 L453.27,659.15 L453.59,659.16 L453.92,659.17 L454.25,659.17 L454.57,659.19 L454.90,659.20 L455.23,659.20 L455.55,659.24 L455.88,659.25 L456.20,659.25 L456.53,659.28 L456.86,659.29 L457.18,659.30 L457.51,659.31 L457.84,659.32 L458.16,659.34 L458.49,659.34 L458.81,659.35 L459.14,659.38 L459.47,659.38 L459.79,659.39 L460.12,659.39 L460.44,659.38 L460.77,659.36 L461.10,659.36 L461.42,659.36 L461.75,659.35 L462.08,659.33 L462.40,659.31 L462.73,659.30 L463.06,659.30 L463.38,659.30 L463.71,659.30 L464.03,659.27 L464.36,659.26 L464.69,659.26 L465.01,659.24 L465.34,659.24 L465.66,659.21 L465.99,659.21 L466.32,659.22 L466.64,659.19 L466.97,659.20 L467.30,659.18 L467.62,659.17 L467.95,659.17 L468.27,659.17 L468.60,659.13 L468.93,659.15 L469.25,659.12 L469.58,659.12 L469.90,659.09 L470.22,659.11 L470.54,659.11 L470.86,659.09 L471.18,659.08 L471.50,659.07 L471.82,659.06 L472.14,659.07 L472.46,659.06 L472.78,659.06 L473.10,659.06 L473.42,659.02 L473.74,659.02 L474.06,659.02 L474.38,659.03 L474.71,659.00 L475.03,659.00 L475.35,659.00 L475.67,658.98 L475.99,658.99 L476.31,658.99 L476.63,658.97 L476.96,658.99 L477.28,658.99 L477.61,659.01 L477.94,659.00 L478.27,658.99 L478.60,659.00 L478.93,659.00 L479.25,659.01 L479.58,659.03 L479.91,659.03 L480.24,659.04 L480.57,659.03 L480.90,659.05 L481.22,659.06 L481.55,659.05 L481.88,659.05 L482.21,659.08 L482.54,659.06 L482.87,659.10 L483.19,659.10 L483.52,659.10 L483.85,659.09 L484.18,659.09 L484.51,659.10 L484.84,659.12 L485.16,659.11 L485.49,659.14 L485.82,659.14 L486.15,659.13 L486.48,659.14 L486.81,659.15 L487.13,659.14 L487.46,659.14 L487.79,659.13 L488.12,659.14 L488.45,659.12 L488.78,659.12 L489.10,659.11 L489.43,659.12 L489.76,659.10 L490.09,659.11 L490.42,659.11 L490.75,659.11 L491.07,659.09 L491.40,659.10 L491.73,659.07 L492.06,659.09 L492.39,659.09 L492.72,659.08 L493.04,659.05 L493.37,659.07 L493.70,659.07 L494.03,659.07 L494.36,659.06 L494.69,659.04 L495.01,659.03 L495.34,659.03 L495.67,659.02 L496.00,659.04 L496.33,659.02 L496.66,659.02 L496.99,659.01 L497.31,659.00 L497.63,659.00 L497.95,659.00 L498.27,659.03 L498.60,659.00 L498.92,658.99 L499.24,658.99 L499.56,659.02 L499.89,659.02 L500.21,659.02 L500.53,659.03 L500.85,659.00 L501.18,659.00 L501.50,659.00 L501.82,659.00 L502.14,659.00 L502.47,659.01 L502.79,659.00 L503.11,658.98 L503.43,658.97 L503.76,658.92 L504.08,658.92 L504.40,658.90 L504.72,658.87 L505.05,658.87 L505.37,658.84 L505.69,658.82 L506.01,658.78 L506.33,658.78 L506.66,658.76 L506.98,658.71 L507.30,658.71 L507.62,658.68 L507.95,658.67 L508.27,658.67 L508.60,658.71 L508.92,658.70 L509.25,658.71 L509.57,658.70 L509.89,658.72 L510.22,658.71 L510.54,658.73 L510.87,658.75 L511.19,658.73 L511.52,658.77 L511.84,658.75 L512.17,658.78 L512.49,658.80 L512.82,658.80 L513.14,658.78 L513.47,658.78 L513.79,658.83 L514.12,658.81 L514.44,658.82 L514.76,658.81 L515.09,658.85 L515.41,658.84 L515.74,658.85 L516.06,658.84 L516.39,658.87 L516.71,658.85 L517.04,658.89 L517.36,658.90 L517.69,658.88 L518.01,658.90 L518.34,658.92 L518.66,658.91 L518.99,658.94 L519.31,658.92 L519.63,658.93 L519.96,658.93 L520.28,658.94 L520.61,658.96 L520.93,658.97 L521.26,658.97 L521.58,658.95 L521.90,658.90 L522.22,658.91 L522.54,658.85 L522.86,658.86 L523.18,658.82 L523.50,658.79 L523.82,658.74 L524.14,658.73 L524.46,658.71 L524.78,658.66 L525.10,658.66 L525.42,658.63 L525.74,658.60 L526.06,658.56 L526.38,658.53 L526.70,658.51 L527.02,658.50 L527.34,658.47 L527.66,658.46 L527.98,658.39 L528.31,658.38 L528.63,658.38 L528.96,658.38 L529.28,658.42 L529.61,658.41 L529.94,658.40 L530.26,658.42 L530.59,658.45 L530.91,658.44 L531.24,658.42 L531.57,658.46 L531.89,658.47 L532.22,658.47 L532.55,658.46 L532.87,658.46 L533.20,658.50 L533.53,658.51 L533.85,658.51 L534.18,658.51 L534.50,658.51 L534.83,658.53 L535.16,658.53 L535.48,658.54 L535.81,658.51 L536.13,658.54 L536.46,658.51 L536.79,658.53 L537.11,658.47 L537.44,658.50 L537.77,658.47 L538.09,658.42 L538.42,658.42 L538.74,658.40 L539.07,658.41 L539.40,658.40 L539.72,658.36 L540.05,658.38 L540.38,658.36 L540.70,658.33 L541.03,658.34 L541.36,658.30 L541.68,658.26 L542.01,658.25 L542.33,658.25 L542.66,658.23 L542.99,658.22 L543.31,658.23 L543.64,658.18 L543.97,658.17 L544.29,658.16 L544.62,658.11 L544.94,658.08 L545.27,658.09 L545.60,658.06 L545.92,658.02 L546.25,658.02 L546.57,658.02 L546.90,657.96 L547.23,657.92 L547.55,657.91 L547.88,657.89 L548.21,657.86 L548.53,657.85 L548.86,657.83 L549.19,657.82 L549.51,657.81 L549.84,657.77 L550.16,657.79 L550.49,657.74 L550.82,657.69 L551.14,657.67 L551.47,657.66 L551.79,657.64 L552.12,657.65 L552.45,657.62 L552.77,657.60 L553.10,657.57 L553.43,657.58 L553.75,657.54 L554.08,657.50 L554.40,657.55 L554.73,657.49 L555.06,657.47 L555.38,657.49 L555.71,657.46 L556.03,657.42 L556.35,657.34 L556.66,657.39 L556.98,657.30 L557.30,657.30 L557.62,657.20 L557.94,657.14 L558.25,657.14 L558.57,657.15 L558.89,657.06 L559.21,657.02 L559.53,656.96 L559.85,656.94 L560.16,656.89 L560.48,656.83 L560.80,656.83 L561.13,656.98 L561.45,657.14 L561.78,657.24 L562.10,657.46 L562.43,657.57 L562.76,657.74 L563.09,657.73 L563.43,657.67 L563.76,657.70 L564.10,657.60 L564.43,657.63 L564.77,657.63 L565.11,657.59 L565.44,657.56 L565.78,657.57 L566.11,657.51 L566.45,657.48 L566.78,657.43 L567.12,657.44 L567.46,657.40 L567.78,657.40 L568.11,657.38 L568.43,657.30 L568.76,657.26 L569.09,657.27 L569.41,657.28 L569.74,657.19 L570.06,657.21 L570.39,657.20 L570.72,657.18 L571.04,657.09 L571.37,657.06 L571.70,657.05 L572.02,657.04 L572.35,657.01 L572.68,657.02 L573.00,656.91 L573.33,656.95 L573.65,656.89 L573.98,656.85 L574.31,656.82 L574.63,656.83 L574.96,656.83 L575.28,656.78 L575.60,656.76 L575.91,656.79 L576.22,656.69 L576.54,656.73 L576.85,656.65 L577.16,656.70 L577.48,656.67 L577.79,656.67 L578.10,656.63 L578.42,656.61 L578.75,656.64 L579.09,656.66 L579.42,656.56 L579.76,656.61 L580.09,656.61 L580.43,656.60 L580.77,656.57 L581.10,656.58 L581.44,656.55 L581.77,656.54 L582.11,656.57 L582.44,656.49 L582.78,656.50 L583.12,656.54 L583.45,656.67 L583.79,656.65 L584.12,656.72 L584.46,656.81 L584.79,656.96 L585.13,656.96 L585.46,657.07 L585.79,657.00 L586.12,657.01 L586.44,656.95 L586.77,656.79 L587.10,656.77 L587.42,656.76 L587.75,656.72 L588.07,656.66 L588.40,656.60 L588.73,656.47 L589.05,656.47 L589.38,656.39 L589.70,656.42 L590.02,656.30 L590.35,656.29 L590.67,656.35 L590.99,656.23 L591.31,656.24 L591.64,656.20 L591.96,656.19 L592.28,656.14 L592.60,656.13 L592.93,656.10 L593.25,656.16 L593.57,656.07 L593.89,656.07 L594.22,656.02 L594.54,656.04 L594.86,656.01 L595.19,655.95 L595.52,656.00 L595.85,656.04 L596.18,656.04 L596.51,656.05 L596.84,656.00 L597.17,656.06 L597.50,656.00 L597.83,656.05 L598.16,656.00 L598.49,655.99 L598.82,655.99 L599.15,655.94 L599.48,656.06 L599.81,655.94 L600.13,655.99 L600.46,655.97 L600.79,655.96 L601.12,655.98 L601.45,655.91 L601.77,655.96 L602.09,655.94 L602.41,655.84 L602.74,655.95 L603.06,655.85 L603.38,655.83 L603.70,655.91 L604.03,655.80 L604.35,655.77 L604.67,655.72 L604.99,655.79 L605.32,655.67 L605.64,655.73 L605.96,655.71 L606.28,655.63 L606.61,655.67 L606.94,655.73 L607.28,655.60 L607.61,655.59 L607.95,655.62 L608.28,655.51 L608.62,655.57 L608.95,655.53 L609.29,655.50 L609.63,655.44 L609.96,655.51 L610.30,655.46 L610.63,655.44 L610.97,655.40 L611.30,655.38 L611.62,655.36 L611.93,655.48 L612.24,655.43 L612.56,655.53 L612.87,655.54 L613.18,655.61 L613.50,655.61 L613.81,655.56 L614.12,655.65 L614.43,655.70 L614.76,655.64 L615.09,655.70 L615.41,655.69 L615.74,655.68 L616.07,655.62 L616.39,655.59 L616.72,655.56 L617.04,655.66 L617.37,655.54 L617.70,655.50 L618.02,655.54 L618.35,655.53 L618.68,655.54 L619.00,655.43 L619.33,655.42 L619.66,655.33 L619.98,655.14 L620.31,655.13 L620.63,655.05 L620.96,654.96 L621.29,654.88 L621.61,654.87 L621.94,654.80 L622.26,654.76 L622.59,654.68 L622.92,654.60 L623.24,654.56 L623.57,654.48 L623.90,654.52 L624.22,654.37 L624.55,654.35 L624.87,654.22 L625.20,654.30 L625.53,654.23 L625.85,654.20 L626.18,654.04 L626.51,653.96 L626.83,653.90 L627.16,653.93 L627.49,653.97 L627.81,653.85 L628.14,653.83 L628.46,653.86 L628.79,653.90 L629.12,653.87 L629.44,653.82 L629.77,653.81 L630.10,653.75 L630.42,653.68 L630.75,653.54 L631.07,653.38 L631.40,653.50 L631.73,653.29 L632.05,653.33 L632.38,653.23 L632.70,652.97 L633.03,652.94 L633.36,652.76 L633.68,652.79 L634.01,652.69 L634.34,652.71 L634.66,652.50 L634.99,652.33 L635.32,652.12 L635.64,652.00 L635.97,652.03 L636.29,651.93 L636.62,651.91 L636.95,651.64 L637.27,651.66 L637.60,651.57 L637.92,651.35 L638.26,651.43 L638.60,651.37 L638.93,651.08 L639.27,651.19 L639.60,650.85 L639.94,651.07 L640.27,650.87 L640.59,650.70 L640.90,650.89 L641.21,650.88 L641.53,650.60 L641.84,650.62 L642.15,650.57 L642.48,650.33 L642.81,649.91 L643.13,649.57 L643.46,649.41 L643.78,649.48 L644.11,649.31 L644.44,649.58 L644.76,649.51 L645.09,649.20 L645.42,649.10 L645.74,649.08 L646.07,649.22 L646.39,649.88 L646.72,650.80 L647.05,650.43 L647.37,650.22 L647.70,649.98 L648.03,649.44 L648.35,649.07 L648.68,648.81 L649.00,648.41 L649.33,648.18 L649.66,647.96 L649.98,647.70 L650.31,647.71 L650.64,648.09 L650.96,647.97 L651.29,647.63 L651.61,647.19 L651.94,647.16 L652.27,647.22 L652.59,647.48 L652.92,647.37 L653.25,646.80 L653.57,647.24 L653.90,647.22 L654.22,647.19 L654.55,647.30 L654.88,647.34 L655.20,647.67 L655.53,647.47 L655.86,646.89 L656.18,646.86 L656.51,646.65 L656.83,646.15 L657.16,645.87 L657.49,646.40 L657.81,646.59 L658.14,646.55 L658.47,646.86 L658.79,646.23 L659.12,645.59 L659.44,646.04 L659.77,646.03 L660.10,646.25 L660.42,646.34 L660.75,646.14 L661.08,646.01 L661.40,646.16 L661.73,646.24 L662.05,645.73 L662.38,645.41 L662.71,645.98 L663.03,646.19 L663.36,646.07 L663.69,646.26 L664.01,646.87 L664.34,647.36 L664.66,647.26 L664.99,647.30 L665.32,647.02 L665.64,646.87 L665.97,647.51 L666.30,648.08 L666.62,648.51 L666.95,648.84 L667.27,648.30 L667.60,647.99 L667.93,647.76 L668.25,647.92 L668.58,647.95 L668.91,648.23 L669.23,648.26 L669.56,648.35 L669.88,648.81 L670.21,649.10 L670.54,649.71 L670.86,649.99 L671.19,649.73 L671.52,649.81 L671.84,649.35 L672.17,649.04 L672.49,648.87 L672.82,648.96 L673.15,649.11 L673.47,649.13 L673.80,649.20 L674.13,649.36 L674.45,648.98 L674.78,648.97 L675.10,649.18 L675.43,649.64 L675.76,649.65 L676.08,649.74 L676.41,650.18 L676.74,650.48 L677.06,650.88 L677.39,651.23 L677.71,651.09 L678.04,651.19 L678.37,651.71 L678.69,652.16 L679.02,651.77 L679.35,651.48 L679.67,651.21 L680.00,651.00 L680.32,651.14 L680.65,651.54 L680.98,651.56 L681.30,651.77 L681.63,651.91 L681.96,651.91 L682.28,652.02 L682.61,651.84 L682.93,651.59 L683.26,651.18 L683.59,650.98 L683.91,650.73 L684.24,650.65 L684.57,650.63 L684.89,650.45 L685.22,650.48 L685.54,650.26 L685.87,650.31 L686.20,650.52 L686.52,650.42 L686.85,650.04 L687.18,649.90 L687.50,649.75 L687.83,649.83 L688.15,649.43 L688.48,649.31 L688.81,649.19 L689.13,649.12 L689.46,649.15 L689.79,648.99 L690.11,648.94 L690.44,649.17 L690.76,649.14 L691.09,649.35 L691.42,649.22 L691.74,649.22 L692.07,648.97 L692.40,649.03 L692.72,649.28 L693.05,649.41 L693.37,649.55 L693.70,649.38 L694.03,649.31 L694.35,649.28 L694.68,649.09 L695.01,649.13 L695.33,649.04 L695.66,648.71 L695.98,648.43 L696.31,648.35 L696.64,648.32 L696.96,648.64 L697.29,648.64 L697.62,648.43 L697.94,648.49 L698.27,648.65 L698.59,648.69 L698.92,648.88 L699.25,648.72 L699.57,648.54 L699.90,648.67 L700.23,648.54 L700.55,648.44 L700.88,648.13 L701.20,648.09 L701.53,648.27 L701.86,648.10 L702.18,648.18 L702.51,648.31 L702.84,648.39 L703.16,648.37 L703.49,647.99 L703.81,647.86 L704.14,648.00 L704.47,647.73 L704.79,647.69 L705.12,647.81 L705.45,647.69 L705.77,647.58 L706.10,647.55 L706.42,647.29 L706.75,647.40 L707.08,647.42 L707.40,647.79 L707.73,647.78 L708.06,647.79 L708.38,647.77 L708.71,647.72 L709.03,647.55 L709.36,647.46 L709.69,647.45 L710.01,647.16 L710.34,647.10 L710.67,646.75 L710.99,646.80 L711.32,646.53 L711.64,646.35 L711.97,646.36 L712.30,646.33 L712.62,646.17 L712.95,646.29 L713.28,646.47 L713.60,646.45 L713.93,646.34 L714.25,646.03 L714.58,645.75 L714.91,645.70 L715.23,645.28 L715.56,645.65 L715.89,645.54 L716.21,645.52 L716.54,646.01 L716.86,645.98 L717.19,645.83 L717.52,645.78 L717.84,645.32 L718.17,645.14 L718.50,645.10 L718.82,645.28 L719.15,645.76 L719.47,646.00 L719.80,645.88 L720.13,646.27 L720.45,646.74 L720.78,647.05 L721.11,647.21 L721.43,647.23 L721.76,647.28 L722.08,647.20 L722.41,646.68 L722.74,646.83 L723.06,646.53 L723.39,646.89 L723.72,647.69 L724.04,647.59 L724.37,647.81 L724.69,647.75 L725.02,647.67 L725.35,648.20 L725.67,648.78 L726.00,649.82 L726.33,650.69 L726.65,650.94 L726.98,651.38 L727.30,651.37 L727.63,651.31 L727.96,651.55 L728.28,652.06 L728.61,652.42 L728.94,652.93 L729.26,652.55 L729.59,652.33 L729.91,651.83 L730.24,651.61 L730.57,651.46 L730.89,651.16 L731.22,651.31 L731.55,651.16 L731.87,650.93 L732.20,650.50 L732.52,650.46 L732.85,650.19 L733.18,650.16 L733.50,649.84 L733.83,650.10 L734.16,650.04 L734.48,649.73 L734.81,649.47 L735.13,649.23 L735.46,649.28 L735.79,649.49 L736.11,649.67 L736.44,649.36 L736.77,649.38 L737.09,648.91 L737.42,648.76 L737.74,648.85 L738.07,648.59 L738.40,649.02 L738.72,649.52 L739.05,649.84 L739.38,650.09 L739.70,649.89 L740.03,649.41 L740.35,649.49 L740.68,649.91 L741.01,649.56 L741.33,649.03 L741.66,648.80 L741.99,648.62 L742.31,648.58 L742.64,648.65 L742.96,648.09 L743.29,647.91 L743.62,647.70 L743.94,647.63 L744.27,647.48 L744.60,647.24 L744.92,647.27 L745.25,647.25 L745.57,647.23 L745.90,646.89 L746.23,646.76 L746.55,647.07 L746.88,646.96 L747.21,647.30 L747.53,647.56 L747.86,647.57 L748.18,648.13 L748.51,648.28 L748.84,648.80 L749.16,649.12 L749.49,648.60 L749.82,647.95 L750.14,647.81 L750.47,648.01 L750.79,647.78 L751.12,647.91 L751.45,647.49 L751.77,647.38 L752.10,647.33 L752.43,646.87 L752.75,646.53 L753.08,646.46 L753.40,646.41 L753.73,646.56 L754.06,646.91 L754.38,647.40 L754.71,646.93 L755.04,646.90 L755.36,647.03 L755.69,646.74 L756.01,646.78 L756.34,646.48 L756.67,646.19 L756.99,646.15 L757.32,646.07 L757.65,646.42 L757.97,646.32 L758.30,646.38 L758.62,646.43 L758.95,646.29 L759.28,645.89 L759.60,645.60 L759.93,645.38 L760.26,645.44 L760.58,645.38 L760.91,644.91 L761.23,644.87 L761.56,644.64 L761.89,644.62 L762.21,644.32 L762.54,644.65 L762.87,644.55 L763.19,644.18 L763.52,643.79 L763.84,644.24 L764.17,644.30 L764.50,644.21 L764.82,643.83 L765.15,643.68 L765.48,643.11 L765.80,642.76 L766.13,642.64 L766.45,642.74 L766.78,642.23 L767.11,642.41 L767.43,642.86 L767.76,642.68 L768.09,642.12 L768.41,642.36 L768.74,642.00 L769.06,641.66 L769.39,641.89 L769.72,641.88 L770.04,641.50 L770.37,641.04 L770.70,641.15 L771.02,641.05 L771.35,641.44 L771.67,640.82 L772.00,640.74 L772.33,641.13 L772.65,641.04 L772.98,640.85 L773.31,640.60 L773.63,640.64 L773.96,640.12 L774.28,639.86 L774.61,640.20 L774.94,640.27 L775.26,640.82 L775.59,640.20 L775.92,639.76 L776.24,639.97 L776.57,640.12 L776.89,640.15 L777.22,639.95 L777.55,639.61 L777.87,639.74 L778.20,639.97 L778.53,640.16 L778.85,639.87 L779.18,639.77 L779.50,640.66 L779.83,641.04 L780.16,641.47 L780.48,641.54 L780.81,641.08 L781.14,640.01 L781.46,639.85 L781.79,640.00 L782.11,640.13 L782.44,640.35 L782.77,641.09 L783.09,641.34 L783.42,641.13 L783.75,641.42 L784.07,640.97 L784.40,640.19 L784.72,640.23 L785.05,640.14 L785.38,640.24 L785.70,639.84 L786.03,639.99 L786.36,639.82 L786.68,639.21 L787.01,639.10 L787.33,639.24 L787.66,639.13 L787.99,639.39 L788.31,639.15 L788.64,639.36 L788.97,639.56 L789.29,639.34 L789.62,638.86 L789.94,638.36 L790.27,638.47 L790.60,638.58 L790.92,638.09 L791.25,637.30 L791.58,637.27 L791.90,637.64 L792.23,637.28 L792.55,636.85 L792.88,637.08 L793.21,636.80 L793.53,636.81 L793.86,637.00 L794.19,636.70 L794.51,636.49 L794.84,636.25 L795.16,636.42 L795.49,636.23 L795.82,636.21 L796.14,635.78 L796.47,635.77 L796.80,635.24 L797.12,635.01 L797.45,634.54 L797.77,633.97 L798.10,634.29 L798.43,633.10 L798.75,632.85 L799.08,632.97 L799.41,633.91 L799.73,634.63 L800.06,634.61 L800.06,660 Z" fill="#888888" clip-path="url(#c2)"/>
<line x1="266.5" x2="266.5" y1="620" y2="660" stroke="#fff" stroke-opacity="0.75" stroke-width="1"/>
<text x="266.5" y="653.7" text-anchor="middle" textLength="35.2" lengthAdjust="spacingAndGlyphs" font-size="13.6" fill="#fff">1950</text>
<line x1="657.5" x2="657.5" y1="620" y2="660" stroke="#fff" stroke-opacity="0.75" stroke-width="1"/>
<text x="657.5" y="653.7" text-anchor="middle" textLength="35.2" lengthAdjust="spacingAndGlyphs" font-size="13.6" fill="#fff">2000</text>
<circle cx="643.5" cy="640.5" r="15.4" fill="#fff" filter="url(#sh)"/>
<path d="M642.3,635 V646 M645.6,635 V646" stroke="#a0a0a0" stroke-width="1.1" fill="none"/>
<circle cx="800.8" cy="640.5" r="15.4" fill="#fff" filter="url(#sh)"/>
<path d="M799.6,635 V646 M802.9,635 V646" stroke="#a0a0a0" stroke-width="1.1" fill="none"/>
<path fill="#ff0000" d="M727.7,275 L732,274.8 L736.5,275.3 L738.5,277 L742.6,279.5 L749.5,281.8 L759.8,282.2 L761.5,283.6 L761.3,291.2 L756.4,289.9 L745.3,288.6 L739.5,287.3 L738.6,288.5 L741,298.1 L745.3,307.8 L750.2,320.2 L755.6,334 L760.2,345 L760.7,352.6 L759.1,353.4 L754.8,345 L749.9,334 L744.4,320.2 L739.5,306.4 L735.5,296.7 L732.9,289.8 L731.9,288 L731.8,312.6 L727.7,312.8 Z"/>
</svg>
</body></html>
